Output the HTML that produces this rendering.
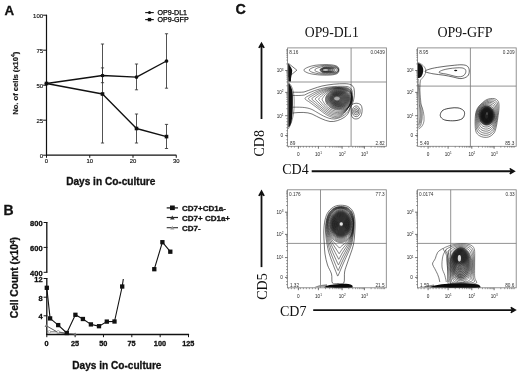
<!DOCTYPE html>
<html><head><meta charset="utf-8"><style>
html,body{margin:0;padding:0;background:#fff;}
svg{display:block;filter:blur(0.35px);}

</style></head><body>
<svg width="520" height="372" viewBox="0 0 520 372">
<rect width="520" height="372" fill="#fff"/>
<text x="4.6" y="14.6" font-size="13.3" text-anchor="start" font-weight="bold" font-family="Liberation Sans, sans-serif" fill="#111" stroke="#111" stroke-width="0.3">A</text>
<line x1="46.5" y1="14.7" x2="46.5" y2="155.7" stroke="#111" stroke-width="1.2" />
<line x1="46" y1="155.2" x2="176.4" y2="155.2" stroke="#111" stroke-width="1.2" />
<line x1="43.1" y1="15.2" x2="46.5" y2="15.2" stroke="#111" stroke-width="1.0" />
<text x="43.1" y="17.7" font-size="6.0" text-anchor="end" font-weight="normal" font-family="Liberation Sans, sans-serif" fill="#111" stroke="#111" stroke-width="0.15">100</text>
<line x1="43.1" y1="50.2" x2="46.5" y2="50.2" stroke="#111" stroke-width="1.0" />
<text x="43.1" y="52.7" font-size="6.0" text-anchor="end" font-weight="normal" font-family="Liberation Sans, sans-serif" fill="#111" stroke="#111" stroke-width="0.15">75</text>
<line x1="43.1" y1="85.2" x2="46.5" y2="85.2" stroke="#111" stroke-width="1.0" />
<text x="43.1" y="87.7" font-size="6.0" text-anchor="end" font-weight="normal" font-family="Liberation Sans, sans-serif" fill="#111" stroke="#111" stroke-width="0.15">50</text>
<line x1="43.1" y1="120.2" x2="46.5" y2="120.2" stroke="#111" stroke-width="1.0" />
<text x="43.1" y="122.7" font-size="6.0" text-anchor="end" font-weight="normal" font-family="Liberation Sans, sans-serif" fill="#111" stroke="#111" stroke-width="0.15">25</text>
<line x1="43.1" y1="155.2" x2="46.5" y2="155.2" stroke="#111" stroke-width="1.0" />
<text x="43.1" y="157.7" font-size="6.0" text-anchor="end" font-weight="normal" font-family="Liberation Sans, sans-serif" fill="#111" stroke="#111" stroke-width="0.15">0</text>
<line x1="46.5" y1="155.2" x2="46.5" y2="157.8" stroke="#111" stroke-width="1.0" />
<text x="46.5" y="163.2" font-size="5.9" text-anchor="middle" font-weight="normal" font-family="Liberation Sans, sans-serif" fill="#111" stroke="#111" stroke-width="0.15">0</text>
<line x1="89.75" y1="155.2" x2="89.75" y2="157.8" stroke="#111" stroke-width="1.0" />
<text x="89.75" y="163.2" font-size="5.9" text-anchor="middle" font-weight="normal" font-family="Liberation Sans, sans-serif" fill="#111" stroke="#111" stroke-width="0.15">10</text>
<line x1="133" y1="155.2" x2="133" y2="157.8" stroke="#111" stroke-width="1.0" />
<text x="133" y="163.2" font-size="5.9" text-anchor="middle" font-weight="normal" font-family="Liberation Sans, sans-serif" fill="#111" stroke="#111" stroke-width="0.15">20</text>
<line x1="176.25" y1="155.2" x2="176.25" y2="157.8" stroke="#111" stroke-width="1.0" />
<text x="176.25" y="163.2" font-size="5.9" text-anchor="middle" font-weight="normal" font-family="Liberation Sans, sans-serif" fill="#111" stroke="#111" stroke-width="0.15">30</text>
<text x="66.2" y="185" font-size="10.1" text-anchor="start" font-weight="bold" font-family="Liberation Sans, sans-serif" fill="#111" stroke="#111" stroke-width="0.3">Days in Co-culture</text>
<text transform="translate(18.3,83.2) rotate(-90)" font-size="7.6" font-weight="bold" text-anchor="middle" font-family="Liberation Sans, sans-serif" fill="#1a1a1a" stroke="#1a1a1a" stroke-width="0.2">No. of cells (x10<tspan font-size="5" dy="-2.9">4</tspan><tspan dy="2.9">)</tspan></text>
<line x1="145.2" y1="12.6" x2="153.8" y2="12.6" stroke="#111" stroke-width="1.1" />
<circle cx="149.5" cy="12.6" r="1.5" fill="#111"/>
<line x1="145.2" y1="19.6" x2="153.8" y2="19.6" stroke="#111" stroke-width="1.1" />
<rect x="147.8" y="17.9" width="3.4" height="3.4" fill="#111"/>
<text x="157.5" y="15.3" font-size="7.1" text-anchor="start" font-weight="normal" font-family="Liberation Sans, sans-serif" fill="#000" stroke="#000" stroke-width="0.25">OP9-DL1</text>
<text x="157.5" y="22.4" font-size="7.1" text-anchor="start" font-weight="normal" font-family="Liberation Sans, sans-serif" fill="#000" stroke="#000" stroke-width="0.25">OP9-GFP</text>
<line x1="102.5" y1="44" x2="102.5" y2="143" stroke="#333" stroke-width="0.85" />
<line x1="100.9" y1="44" x2="104.1" y2="44" stroke="#333" stroke-width="0.85" />
<line x1="100.9" y1="143" x2="104.1" y2="143" stroke="#333" stroke-width="0.85" />
<line x1="102.5" y1="67.9" x2="102.5" y2="82.7" stroke="#333" stroke-width="0.85" />
<line x1="100.9" y1="67.9" x2="104.1" y2="67.9" stroke="#333" stroke-width="0.85" />
<line x1="100.9" y1="82.7" x2="104.1" y2="82.7" stroke="#333" stroke-width="0.85" />
<line x1="136.5" y1="64" x2="136.5" y2="89.8" stroke="#333" stroke-width="0.85" />
<line x1="134.9" y1="64" x2="138.1" y2="64" stroke="#333" stroke-width="0.85" />
<line x1="134.9" y1="89.8" x2="138.1" y2="89.8" stroke="#333" stroke-width="0.85" />
<line x1="136.5" y1="114" x2="136.5" y2="143" stroke="#333" stroke-width="0.85" />
<line x1="134.9" y1="114" x2="138.1" y2="114" stroke="#333" stroke-width="0.85" />
<line x1="134.9" y1="143" x2="138.1" y2="143" stroke="#333" stroke-width="0.85" />
<line x1="166.5" y1="33.75" x2="166.5" y2="88.2" stroke="#333" stroke-width="0.85" />
<line x1="164.9" y1="33.75" x2="168.1" y2="33.75" stroke="#333" stroke-width="0.85" />
<line x1="164.9" y1="88.2" x2="168.1" y2="88.2" stroke="#333" stroke-width="0.85" />
<line x1="166.5" y1="124.4" x2="166.5" y2="148.5" stroke="#333" stroke-width="0.85" />
<line x1="164.9" y1="124.4" x2="168.1" y2="124.4" stroke="#333" stroke-width="0.85" />
<line x1="164.9" y1="148.5" x2="168.1" y2="148.5" stroke="#333" stroke-width="0.85" />
<polyline points="46.5,83.5 102.5,75.5 136.5,77.1 166.5,61" fill="none" stroke="#111" stroke-width="1.35" stroke-linejoin="round"/>
<polyline points="46.5,83.5 102.5,94 136.5,128.5 166.5,136.6" fill="none" stroke="#111" stroke-width="1.35" stroke-linejoin="round"/>
<circle cx="46.5" cy="83.5" r="1.85" fill="#111"/>
<circle cx="102.5" cy="75.5" r="1.85" fill="#111"/>
<circle cx="136.5" cy="77.1" r="1.85" fill="#111"/>
<circle cx="166.5" cy="61" r="1.85" fill="#111"/>
<rect x="44.7" y="81.7" width="3.6" height="3.6" fill="#111"/>
<rect x="100.7" y="92.2" width="3.6" height="3.6" fill="#111"/>
<rect x="134.7" y="126.7" width="3.6" height="3.6" fill="#111"/>
<rect x="164.7" y="134.8" width="3.6" height="3.6" fill="#111"/>
<text x="3.6" y="215.3" font-size="14" text-anchor="start" font-weight="bold" font-family="Liberation Sans, sans-serif" fill="#111" stroke="#111" stroke-width="0.3">B</text>
<line x1="46.8" y1="222.3" x2="46.8" y2="272.6" stroke="#111" stroke-width="1.3" />
<line x1="46.8" y1="278.3" x2="46.8" y2="335" stroke="#111" stroke-width="1.3" />
<line x1="43.6" y1="222.5" x2="47.4" y2="222.5" stroke="#111" stroke-width="1.0" />
<text x="42.6" y="225.8" font-size="7.5" text-anchor="end" font-weight="bold" font-family="Liberation Sans, sans-serif" fill="#111" stroke="#111" stroke-width="0.3">800</text>
<line x1="43.6" y1="247.4" x2="47.4" y2="247.4" stroke="#111" stroke-width="1.0" />
<text x="42.6" y="250.7" font-size="7.5" text-anchor="end" font-weight="bold" font-family="Liberation Sans, sans-serif" fill="#111" stroke="#111" stroke-width="0.3">600</text>
<line x1="43.6" y1="272.3" x2="47.4" y2="272.3" stroke="#111" stroke-width="1.0" />
<text x="42.6" y="275.6" font-size="7.5" text-anchor="end" font-weight="bold" font-family="Liberation Sans, sans-serif" fill="#111" stroke="#111" stroke-width="0.3">400</text>
<line x1="43.6" y1="278.5" x2="47.4" y2="278.5" stroke="#111" stroke-width="1.0" />
<text x="42.6" y="281.8" font-size="7.5" text-anchor="end" font-weight="bold" font-family="Liberation Sans, sans-serif" fill="#111" stroke="#111" stroke-width="0.3">12</text>
<line x1="43.6" y1="297.2" x2="47.4" y2="297.2" stroke="#111" stroke-width="1.0" />
<text x="42.6" y="300.5" font-size="7.5" text-anchor="end" font-weight="bold" font-family="Liberation Sans, sans-serif" fill="#111" stroke="#111" stroke-width="0.3">8</text>
<line x1="43.6" y1="315.8" x2="47.4" y2="315.8" stroke="#111" stroke-width="1.0" />
<text x="42.6" y="319.1" font-size="7.5" text-anchor="end" font-weight="bold" font-family="Liberation Sans, sans-serif" fill="#111" stroke="#111" stroke-width="0.3">4</text>
<line x1="46.2" y1="334.5" x2="189.1" y2="334.5" stroke="#111" stroke-width="1.3" />
<line x1="46.8" y1="334.5" x2="46.8" y2="337.2" stroke="#111" stroke-width="1.0" />
<text x="46.6" y="346.2" font-size="7.3" text-anchor="middle" font-weight="bold" font-family="Liberation Sans, sans-serif" fill="#111" stroke="#111" stroke-width="0.3">0</text>
<line x1="75.14" y1="334.5" x2="75.14" y2="337.2" stroke="#111" stroke-width="1.0" />
<text x="74.94" y="346.2" font-size="7.3" text-anchor="middle" font-weight="bold" font-family="Liberation Sans, sans-serif" fill="#111" stroke="#111" stroke-width="0.3">25</text>
<line x1="103.48" y1="334.5" x2="103.48" y2="337.2" stroke="#111" stroke-width="1.0" />
<text x="103.28" y="346.2" font-size="7.3" text-anchor="middle" font-weight="bold" font-family="Liberation Sans, sans-serif" fill="#111" stroke="#111" stroke-width="0.3">50</text>
<line x1="131.82" y1="334.5" x2="131.82" y2="337.2" stroke="#111" stroke-width="1.0" />
<text x="131.62" y="346.2" font-size="7.3" text-anchor="middle" font-weight="bold" font-family="Liberation Sans, sans-serif" fill="#111" stroke="#111" stroke-width="0.3">75</text>
<line x1="160.16" y1="334.5" x2="160.16" y2="337.2" stroke="#111" stroke-width="1.0" />
<text x="159.96" y="346.2" font-size="7.3" text-anchor="middle" font-weight="bold" font-family="Liberation Sans, sans-serif" fill="#111" stroke="#111" stroke-width="0.3">100</text>
<line x1="188.5" y1="334.5" x2="188.5" y2="337.2" stroke="#111" stroke-width="1.0" />
<text x="188.3" y="346.2" font-size="7.3" text-anchor="middle" font-weight="bold" font-family="Liberation Sans, sans-serif" fill="#111" stroke="#111" stroke-width="0.3">125</text>
<text x="72.3" y="368.6" font-size="10.1" text-anchor="start" font-weight="bold" font-family="Liberation Sans, sans-serif" fill="#111" stroke="#111" stroke-width="0.3">Days in Co-culture</text>
<text transform="translate(18.4,277.6) rotate(-90)" font-size="10.2" font-weight="bold" text-anchor="middle" font-family="Liberation Sans, sans-serif" fill="#111" stroke="#111" stroke-width="0.3">Cell Count (x10<tspan font-size="6.5" dy="-3.6">4</tspan><tspan dy="3.6">)</tspan></text>
<polyline points="46.2,325.7 58.2,332.5 66.6,333.6 75.1,334.2" fill="none" stroke="#444" stroke-width="0.9" stroke-linejoin="round"/>
<path d="M44.6,327 L46.2,324 L47.8,327Z" fill="#777"/>
<path d="M56.6,333.5 l1.6,-2.8 l1.6,2.8Z" fill="#666"/>
<path d="M65,334.6 l1.6,-2.8 l1.6,2.8Z" fill="#666"/>
<path d="M73.5,335.2 l1.6,-2.8 l1.6,2.8Z" fill="#666"/>
<polyline points="46.5,331 49.3,331.8 58.2,331.8 66.6,333.4" fill="none" stroke="#555" stroke-width="0.8" stroke-linejoin="round"/>
<circle cx="49.3" cy="331.8" r="1.3" fill="#fff" stroke="#888" stroke-width="0.6"/>
<circle cx="58.2" cy="331.8" r="1.3" fill="#fff" stroke="#888" stroke-width="0.6"/>
<polyline points="46.8,287.8 50.1,318.4 58.2,325.1 66.8,333 75.4,314.8 82.9,319 90.9,324.4 99,326.2 106.8,321.6 114.5,321.5 122.2,286.5 123.3,279" fill="none" stroke="#111" stroke-width="1.1" stroke-linejoin="round"/>
<rect x="44.65" y="285.65" width="4.3" height="4.3" fill="#111"/>
<rect x="47.95" y="316.25" width="4.3" height="4.3" fill="#111"/>
<rect x="56.05" y="322.95" width="4.3" height="4.3" fill="#111"/>
<rect x="64.65" y="330.85" width="4.3" height="4.3" fill="#111"/>
<rect x="73.25" y="312.65" width="4.3" height="4.3" fill="#111"/>
<rect x="80.75" y="316.85" width="4.3" height="4.3" fill="#111"/>
<rect x="88.75" y="322.25" width="4.3" height="4.3" fill="#111"/>
<rect x="96.85" y="324.05" width="4.3" height="4.3" fill="#111"/>
<rect x="104.65" y="319.45" width="4.3" height="4.3" fill="#111"/>
<rect x="112.35" y="319.35" width="4.3" height="4.3" fill="#111"/>
<rect x="120.05" y="284.35" width="4.3" height="4.3" fill="#111"/>
<polyline points="154.3,269.2 162.4,242.2 170.3,251.7" fill="none" stroke="#111" stroke-width="1.1" stroke-linejoin="round"/>
<rect x="152.15" y="267.05" width="4.3" height="4.3" fill="#111"/>
<rect x="160.25" y="240.05" width="4.3" height="4.3" fill="#111"/>
<rect x="168.15" y="249.55" width="4.3" height="4.3" fill="#111"/>
<line x1="166.7" y1="207.9" x2="178" y2="207.9" stroke="#111" stroke-width="1.2" />
<rect x="170" y="205.5" width="4.8" height="4.6" fill="#111"/>
<line x1="166.7" y1="217.5" x2="178" y2="217.5" stroke="#222" stroke-width="1.2" />
<path d="M170,219.6 L172.3,215.4 L174.6,219.6Z" fill="#333"/>
<line x1="166.7" y1="227.7" x2="178" y2="227.7" stroke="#333" stroke-width="1.1" />
<path d="M170.2,229.6 L172.3,225.8 L174.4,229.6Z" fill="#999"/>
<text x="182" y="211.2" font-size="8" text-anchor="start" font-weight="bold" font-family="Liberation Sans, sans-serif" fill="#111" stroke="#111" stroke-width="0.3">CD7+CD1a-</text>
<text x="182" y="220.8" font-size="8" text-anchor="start" font-weight="bold" font-family="Liberation Sans, sans-serif" fill="#111" stroke="#111" stroke-width="0.3">CD7+ CD1a+</text>
<text x="182" y="231.3" font-size="8" text-anchor="start" font-weight="bold" font-family="Liberation Sans, sans-serif" fill="#111" stroke="#111" stroke-width="0.3">CD7-</text>
<text x="235.6" y="13.9" font-size="14.3" text-anchor="start" font-weight="bold" font-family="Liberation Sans, sans-serif" fill="#111" stroke="#111" stroke-width="0.3">C</text>
<text x="304.8" y="36.6" font-size="13.7" text-anchor="start" font-weight="normal" font-family="Liberation Serif, serif" fill="#111" >OP9-DL1</text>
<text x="437.4" y="36.6" font-size="14" text-anchor="start" font-weight="normal" font-family="Liberation Serif, serif" fill="#111" >OP9-GFP</text>
<line x1="261.5" y1="45.2" x2="261.5" y2="119" stroke="#111" stroke-width="1.8" />
<path d="M261.5,43 L264.2,47.8 L261.5,46 L258.8,47.8 Z" stroke="#111" stroke-width="1.3" stroke-linejoin="miter" fill="#111"/>
<text transform="translate(264.2,143.3) rotate(-90)" font-size="14" text-anchor="middle" font-family="Liberation Serif, serif" fill="#111">CD8</text>
<text x="282.2" y="174.4" font-size="14" text-anchor="start" font-weight="normal" font-family="Liberation Serif, serif" fill="#111" >CD4</text>
<line x1="311.7" y1="171.2" x2="512.3" y2="171.2" stroke="#111" stroke-width="1.9" />
<path d="M514.5,171.2 L509.9,168.5 L511.7,171.2 L509.9,173.9 Z" stroke="#111" stroke-width="1.3" stroke-linejoin="miter" fill="#111"/>
<line x1="261.5" y1="193.1" x2="261.5" y2="267.1" stroke="#111" stroke-width="1.8" />
<path d="M261.5,190.9 L264.2,195.7 L261.5,193.9 L258.8,195.7 Z" stroke="#111" stroke-width="1.3" stroke-linejoin="miter" fill="#111"/>
<text transform="translate(266.6,286.6) rotate(-90)" font-size="14" text-anchor="middle" font-family="Liberation Serif, serif" fill="#111">CD5</text>
<text x="280" y="315.8" font-size="14" text-anchor="start" font-weight="normal" font-family="Liberation Serif, serif" fill="#111" >CD7</text>
<line x1="313.2" y1="310.1" x2="513.3" y2="310.1" stroke="#111" stroke-width="1.9" />
<path d="M515.5,310.1 L510.9,307.4 L512.7,310.1 L510.9,312.8 Z" stroke="#111" stroke-width="1.3" stroke-linejoin="miter" fill="#111"/>
<rect x="287.6" y="47.9" width="98.8" height="98.4" fill="none" stroke="#808080" stroke-width="0.85"/>
<line x1="351.1" y1="47.9" x2="351.1" y2="146.3" stroke="#808080" stroke-width="0.85" />
<line x1="287.6" y1="82" x2="386.4" y2="82" stroke="#808080" stroke-width="0.85" />
<line x1="285.2" y1="70.5" x2="287.6" y2="70.5" stroke="#333" stroke-width="0.7" />
<text x="283.6" y="72.3" font-size="4.6" text-anchor="end" font-family="Liberation Sans, sans-serif" fill="#222">10<tspan font-size="3.1" dy="-1.8">3</tspan></text>
<line x1="285.2" y1="92.4" x2="287.6" y2="92.4" stroke="#333" stroke-width="0.7" />
<text x="283.6" y="94.2" font-size="4.6" text-anchor="end" font-family="Liberation Sans, sans-serif" fill="#222">10<tspan font-size="3.1" dy="-1.8">2</tspan></text>
<line x1="285.2" y1="115.7" x2="287.6" y2="115.7" stroke="#333" stroke-width="0.7" />
<text x="283.6" y="117.5" font-size="4.6" text-anchor="end" font-family="Liberation Sans, sans-serif" fill="#222">10<tspan font-size="3.1" dy="-1.8">1</tspan></text>
<line x1="285.2" y1="135.5" x2="287.6" y2="135.5" stroke="#333" stroke-width="0.7" />
<text x="283" y="137.3" font-size="4.7" text-anchor="end" font-weight="normal" font-family="Liberation Sans, sans-serif" fill="#222" >0</text>
<line x1="298.4" y1="146.3" x2="298.4" y2="148.7" stroke="#333" stroke-width="0.7" />
<text x="298.4" y="156.1" font-size="4.7" text-anchor="middle" font-weight="normal" font-family="Liberation Sans, sans-serif" fill="#222" >0</text>
<line x1="318.4" y1="146.3" x2="318.4" y2="148.7" stroke="#333" stroke-width="0.7" />
<text x="318.5" y="156.1" font-size="4.6" text-anchor="middle" font-family="Liberation Sans, sans-serif" fill="#222">10<tspan font-size="3.1" dy="-1.8">1</tspan></text>
<line x1="342.1" y1="146.3" x2="342.1" y2="148.7" stroke="#333" stroke-width="0.7" />
<text x="342.2" y="156.1" font-size="4.6" text-anchor="middle" font-family="Liberation Sans, sans-serif" fill="#222">10<tspan font-size="3.1" dy="-1.8">2</tspan></text>
<line x1="364.4" y1="146.3" x2="364.4" y2="148.7" stroke="#333" stroke-width="0.7" />
<text x="364.5" y="156.1" font-size="4.6" text-anchor="middle" font-family="Liberation Sans, sans-serif" fill="#222">10<tspan font-size="3.1" dy="-1.8">3</tspan></text>
<line x1="286.2" y1="85.81" x2="287.6" y2="85.81" stroke="#444" stroke-width="0.5" />
<line x1="286.2" y1="81.95" x2="287.6" y2="81.95" stroke="#444" stroke-width="0.5" />
<line x1="286.2" y1="79.21" x2="287.6" y2="79.21" stroke="#444" stroke-width="0.5" />
<line x1="286.2" y1="77.09" x2="287.6" y2="77.09" stroke="#444" stroke-width="0.5" />
<line x1="286.2" y1="75.36" x2="287.6" y2="75.36" stroke="#444" stroke-width="0.5" />
<line x1="286.2" y1="73.89" x2="287.6" y2="73.89" stroke="#444" stroke-width="0.5" />
<line x1="286.2" y1="72.62" x2="287.6" y2="72.62" stroke="#444" stroke-width="0.5" />
<line x1="286.2" y1="71.5" x2="287.6" y2="71.5" stroke="#444" stroke-width="0.5" />
<line x1="286.2" y1="108.69" x2="287.6" y2="108.69" stroke="#444" stroke-width="0.5" />
<line x1="286.2" y1="104.58" x2="287.6" y2="104.58" stroke="#444" stroke-width="0.5" />
<line x1="286.2" y1="101.67" x2="287.6" y2="101.67" stroke="#444" stroke-width="0.5" />
<line x1="286.2" y1="99.41" x2="287.6" y2="99.41" stroke="#444" stroke-width="0.5" />
<line x1="286.2" y1="97.57" x2="287.6" y2="97.57" stroke="#444" stroke-width="0.5" />
<line x1="286.2" y1="96.01" x2="287.6" y2="96.01" stroke="#444" stroke-width="0.5" />
<line x1="286.2" y1="94.66" x2="287.6" y2="94.66" stroke="#444" stroke-width="0.5" />
<line x1="286.2" y1="93.47" x2="287.6" y2="93.47" stroke="#444" stroke-width="0.5" />
<line x1="286.2" y1="63.91" x2="287.6" y2="63.91" stroke="#444" stroke-width="0.5" />
<line x1="286.2" y1="60.05" x2="287.6" y2="60.05" stroke="#444" stroke-width="0.5" />
<line x1="286.2" y1="57.31" x2="287.6" y2="57.31" stroke="#444" stroke-width="0.5" />
<line x1="286.2" y1="55.19" x2="287.6" y2="55.19" stroke="#444" stroke-width="0.5" />
<line x1="286.2" y1="53.46" x2="287.6" y2="53.46" stroke="#444" stroke-width="0.5" />
<line x1="286.2" y1="51.99" x2="287.6" y2="51.99" stroke="#444" stroke-width="0.5" />
<line x1="286.2" y1="50.72" x2="287.6" y2="50.72" stroke="#444" stroke-width="0.5" />
<line x1="286.2" y1="49.6" x2="287.6" y2="49.6" stroke="#444" stroke-width="0.5" />
<line x1="286.2" y1="118.7" x2="287.6" y2="118.7" stroke="#444" stroke-width="0.5" />
<line x1="286.2" y1="121.7" x2="287.6" y2="121.7" stroke="#444" stroke-width="0.5" />
<line x1="286.2" y1="124.7" x2="287.6" y2="124.7" stroke="#444" stroke-width="0.5" />
<line x1="286.2" y1="127.7" x2="287.6" y2="127.7" stroke="#444" stroke-width="0.5" />
<line x1="286.2" y1="130.7" x2="287.6" y2="130.7" stroke="#444" stroke-width="0.5" />
<line x1="286.2" y1="133.7" x2="287.6" y2="133.7" stroke="#444" stroke-width="0.5" />
<line x1="286.2" y1="136.7" x2="287.6" y2="136.7" stroke="#444" stroke-width="0.5" />
<line x1="286.2" y1="139.7" x2="287.6" y2="139.7" stroke="#444" stroke-width="0.5" />
<line x1="286.2" y1="142.7" x2="287.6" y2="142.7" stroke="#444" stroke-width="0.5" />
<line x1="286.2" y1="145.7" x2="287.6" y2="145.7" stroke="#444" stroke-width="0.5" />
<line x1="325.53" y1="146.3" x2="325.53" y2="147.7" stroke="#444" stroke-width="0.5" />
<line x1="329.71" y1="146.3" x2="329.71" y2="147.7" stroke="#444" stroke-width="0.5" />
<line x1="332.67" y1="146.3" x2="332.67" y2="147.7" stroke="#444" stroke-width="0.5" />
<line x1="334.97" y1="146.3" x2="334.97" y2="147.7" stroke="#444" stroke-width="0.5" />
<line x1="336.84" y1="146.3" x2="336.84" y2="147.7" stroke="#444" stroke-width="0.5" />
<line x1="338.43" y1="146.3" x2="338.43" y2="147.7" stroke="#444" stroke-width="0.5" />
<line x1="339.8" y1="146.3" x2="339.8" y2="147.7" stroke="#444" stroke-width="0.5" />
<line x1="341.02" y1="146.3" x2="341.02" y2="147.7" stroke="#444" stroke-width="0.5" />
<line x1="348.81" y1="146.3" x2="348.81" y2="147.7" stroke="#444" stroke-width="0.5" />
<line x1="352.74" y1="146.3" x2="352.74" y2="147.7" stroke="#444" stroke-width="0.5" />
<line x1="355.53" y1="146.3" x2="355.53" y2="147.7" stroke="#444" stroke-width="0.5" />
<line x1="357.69" y1="146.3" x2="357.69" y2="147.7" stroke="#444" stroke-width="0.5" />
<line x1="359.45" y1="146.3" x2="359.45" y2="147.7" stroke="#444" stroke-width="0.5" />
<line x1="360.95" y1="146.3" x2="360.95" y2="147.7" stroke="#444" stroke-width="0.5" />
<line x1="362.24" y1="146.3" x2="362.24" y2="147.7" stroke="#444" stroke-width="0.5" />
<line x1="363.38" y1="146.3" x2="363.38" y2="147.7" stroke="#444" stroke-width="0.5" />
<line x1="371.11" y1="146.3" x2="371.11" y2="147.7" stroke="#444" stroke-width="0.5" />
<line x1="375.04" y1="146.3" x2="375.04" y2="147.7" stroke="#444" stroke-width="0.5" />
<line x1="377.83" y1="146.3" x2="377.83" y2="147.7" stroke="#444" stroke-width="0.5" />
<line x1="379.99" y1="146.3" x2="379.99" y2="147.7" stroke="#444" stroke-width="0.5" />
<line x1="381.75" y1="146.3" x2="381.75" y2="147.7" stroke="#444" stroke-width="0.5" />
<line x1="383.25" y1="146.3" x2="383.25" y2="147.7" stroke="#444" stroke-width="0.5" />
<line x1="384.54" y1="146.3" x2="384.54" y2="147.7" stroke="#444" stroke-width="0.5" />
<line x1="315.4" y1="146.3" x2="315.4" y2="147.7" stroke="#444" stroke-width="0.5" />
<line x1="312.4" y1="146.3" x2="312.4" y2="147.7" stroke="#444" stroke-width="0.5" />
<line x1="309.4" y1="146.3" x2="309.4" y2="147.7" stroke="#444" stroke-width="0.5" />
<line x1="306.4" y1="146.3" x2="306.4" y2="147.7" stroke="#444" stroke-width="0.5" />
<line x1="303.4" y1="146.3" x2="303.4" y2="147.7" stroke="#444" stroke-width="0.5" />
<line x1="300.4" y1="146.3" x2="300.4" y2="147.7" stroke="#444" stroke-width="0.5" />
<line x1="294.4" y1="146.3" x2="294.4" y2="147.7" stroke="#444" stroke-width="0.5" />
<line x1="291.4" y1="146.3" x2="291.4" y2="147.7" stroke="#444" stroke-width="0.5" />
<line x1="288.4" y1="146.3" x2="288.4" y2="147.7" stroke="#444" stroke-width="0.5" />
<rect x="417.6" y="47.9" width="98.6" height="98.4" fill="none" stroke="#808080" stroke-width="0.85"/>
<line x1="470.4" y1="47.9" x2="470.4" y2="146.3" stroke="#808080" stroke-width="0.85" />
<line x1="417.6" y1="86.1" x2="516.2" y2="86.1" stroke="#808080" stroke-width="0.85" />
<line x1="415.2" y1="70.5" x2="417.6" y2="70.5" stroke="#333" stroke-width="0.7" />
<text x="413.6" y="72.3" font-size="4.6" text-anchor="end" font-family="Liberation Sans, sans-serif" fill="#222">10<tspan font-size="3.1" dy="-1.8">3</tspan></text>
<line x1="415.2" y1="92.4" x2="417.6" y2="92.4" stroke="#333" stroke-width="0.7" />
<text x="413.6" y="94.2" font-size="4.6" text-anchor="end" font-family="Liberation Sans, sans-serif" fill="#222">10<tspan font-size="3.1" dy="-1.8">2</tspan></text>
<line x1="415.2" y1="115.7" x2="417.6" y2="115.7" stroke="#333" stroke-width="0.7" />
<text x="413.6" y="117.5" font-size="4.6" text-anchor="end" font-family="Liberation Sans, sans-serif" fill="#222">10<tspan font-size="3.1" dy="-1.8">1</tspan></text>
<line x1="415.2" y1="135.5" x2="417.6" y2="135.5" stroke="#333" stroke-width="0.7" />
<text x="413" y="137.3" font-size="4.7" text-anchor="end" font-weight="normal" font-family="Liberation Sans, sans-serif" fill="#222" >0</text>
<line x1="428.1" y1="146.3" x2="428.1" y2="148.7" stroke="#333" stroke-width="0.7" />
<text x="428.1" y="156.1" font-size="4.7" text-anchor="middle" font-weight="normal" font-family="Liberation Sans, sans-serif" fill="#222" >0</text>
<line x1="448.1" y1="146.3" x2="448.1" y2="148.7" stroke="#333" stroke-width="0.7" />
<text x="448.2" y="156.1" font-size="4.6" text-anchor="middle" font-family="Liberation Sans, sans-serif" fill="#222">10<tspan font-size="3.1" dy="-1.8">1</tspan></text>
<line x1="471.8" y1="146.3" x2="471.8" y2="148.7" stroke="#333" stroke-width="0.7" />
<text x="471.9" y="156.1" font-size="4.6" text-anchor="middle" font-family="Liberation Sans, sans-serif" fill="#222">10<tspan font-size="3.1" dy="-1.8">2</tspan></text>
<line x1="494.1" y1="146.3" x2="494.1" y2="148.7" stroke="#333" stroke-width="0.7" />
<text x="494.2" y="156.1" font-size="4.6" text-anchor="middle" font-family="Liberation Sans, sans-serif" fill="#222">10<tspan font-size="3.1" dy="-1.8">3</tspan></text>
<line x1="416.2" y1="85.81" x2="417.6" y2="85.81" stroke="#444" stroke-width="0.5" />
<line x1="416.2" y1="81.95" x2="417.6" y2="81.95" stroke="#444" stroke-width="0.5" />
<line x1="416.2" y1="79.21" x2="417.6" y2="79.21" stroke="#444" stroke-width="0.5" />
<line x1="416.2" y1="77.09" x2="417.6" y2="77.09" stroke="#444" stroke-width="0.5" />
<line x1="416.2" y1="75.36" x2="417.6" y2="75.36" stroke="#444" stroke-width="0.5" />
<line x1="416.2" y1="73.89" x2="417.6" y2="73.89" stroke="#444" stroke-width="0.5" />
<line x1="416.2" y1="72.62" x2="417.6" y2="72.62" stroke="#444" stroke-width="0.5" />
<line x1="416.2" y1="71.5" x2="417.6" y2="71.5" stroke="#444" stroke-width="0.5" />
<line x1="416.2" y1="108.69" x2="417.6" y2="108.69" stroke="#444" stroke-width="0.5" />
<line x1="416.2" y1="104.58" x2="417.6" y2="104.58" stroke="#444" stroke-width="0.5" />
<line x1="416.2" y1="101.67" x2="417.6" y2="101.67" stroke="#444" stroke-width="0.5" />
<line x1="416.2" y1="99.41" x2="417.6" y2="99.41" stroke="#444" stroke-width="0.5" />
<line x1="416.2" y1="97.57" x2="417.6" y2="97.57" stroke="#444" stroke-width="0.5" />
<line x1="416.2" y1="96.01" x2="417.6" y2="96.01" stroke="#444" stroke-width="0.5" />
<line x1="416.2" y1="94.66" x2="417.6" y2="94.66" stroke="#444" stroke-width="0.5" />
<line x1="416.2" y1="93.47" x2="417.6" y2="93.47" stroke="#444" stroke-width="0.5" />
<line x1="416.2" y1="63.91" x2="417.6" y2="63.91" stroke="#444" stroke-width="0.5" />
<line x1="416.2" y1="60.05" x2="417.6" y2="60.05" stroke="#444" stroke-width="0.5" />
<line x1="416.2" y1="57.31" x2="417.6" y2="57.31" stroke="#444" stroke-width="0.5" />
<line x1="416.2" y1="55.19" x2="417.6" y2="55.19" stroke="#444" stroke-width="0.5" />
<line x1="416.2" y1="53.46" x2="417.6" y2="53.46" stroke="#444" stroke-width="0.5" />
<line x1="416.2" y1="51.99" x2="417.6" y2="51.99" stroke="#444" stroke-width="0.5" />
<line x1="416.2" y1="50.72" x2="417.6" y2="50.72" stroke="#444" stroke-width="0.5" />
<line x1="416.2" y1="49.6" x2="417.6" y2="49.6" stroke="#444" stroke-width="0.5" />
<line x1="416.2" y1="118.7" x2="417.6" y2="118.7" stroke="#444" stroke-width="0.5" />
<line x1="416.2" y1="121.7" x2="417.6" y2="121.7" stroke="#444" stroke-width="0.5" />
<line x1="416.2" y1="124.7" x2="417.6" y2="124.7" stroke="#444" stroke-width="0.5" />
<line x1="416.2" y1="127.7" x2="417.6" y2="127.7" stroke="#444" stroke-width="0.5" />
<line x1="416.2" y1="130.7" x2="417.6" y2="130.7" stroke="#444" stroke-width="0.5" />
<line x1="416.2" y1="133.7" x2="417.6" y2="133.7" stroke="#444" stroke-width="0.5" />
<line x1="416.2" y1="136.7" x2="417.6" y2="136.7" stroke="#444" stroke-width="0.5" />
<line x1="416.2" y1="139.7" x2="417.6" y2="139.7" stroke="#444" stroke-width="0.5" />
<line x1="416.2" y1="142.7" x2="417.6" y2="142.7" stroke="#444" stroke-width="0.5" />
<line x1="416.2" y1="145.7" x2="417.6" y2="145.7" stroke="#444" stroke-width="0.5" />
<line x1="455.23" y1="146.3" x2="455.23" y2="147.7" stroke="#444" stroke-width="0.5" />
<line x1="459.41" y1="146.3" x2="459.41" y2="147.7" stroke="#444" stroke-width="0.5" />
<line x1="462.37" y1="146.3" x2="462.37" y2="147.7" stroke="#444" stroke-width="0.5" />
<line x1="464.67" y1="146.3" x2="464.67" y2="147.7" stroke="#444" stroke-width="0.5" />
<line x1="466.54" y1="146.3" x2="466.54" y2="147.7" stroke="#444" stroke-width="0.5" />
<line x1="468.13" y1="146.3" x2="468.13" y2="147.7" stroke="#444" stroke-width="0.5" />
<line x1="469.5" y1="146.3" x2="469.5" y2="147.7" stroke="#444" stroke-width="0.5" />
<line x1="470.72" y1="146.3" x2="470.72" y2="147.7" stroke="#444" stroke-width="0.5" />
<line x1="478.51" y1="146.3" x2="478.51" y2="147.7" stroke="#444" stroke-width="0.5" />
<line x1="482.44" y1="146.3" x2="482.44" y2="147.7" stroke="#444" stroke-width="0.5" />
<line x1="485.23" y1="146.3" x2="485.23" y2="147.7" stroke="#444" stroke-width="0.5" />
<line x1="487.39" y1="146.3" x2="487.39" y2="147.7" stroke="#444" stroke-width="0.5" />
<line x1="489.15" y1="146.3" x2="489.15" y2="147.7" stroke="#444" stroke-width="0.5" />
<line x1="490.65" y1="146.3" x2="490.65" y2="147.7" stroke="#444" stroke-width="0.5" />
<line x1="491.94" y1="146.3" x2="491.94" y2="147.7" stroke="#444" stroke-width="0.5" />
<line x1="493.08" y1="146.3" x2="493.08" y2="147.7" stroke="#444" stroke-width="0.5" />
<line x1="500.81" y1="146.3" x2="500.81" y2="147.7" stroke="#444" stroke-width="0.5" />
<line x1="504.74" y1="146.3" x2="504.74" y2="147.7" stroke="#444" stroke-width="0.5" />
<line x1="507.53" y1="146.3" x2="507.53" y2="147.7" stroke="#444" stroke-width="0.5" />
<line x1="509.69" y1="146.3" x2="509.69" y2="147.7" stroke="#444" stroke-width="0.5" />
<line x1="511.45" y1="146.3" x2="511.45" y2="147.7" stroke="#444" stroke-width="0.5" />
<line x1="512.95" y1="146.3" x2="512.95" y2="147.7" stroke="#444" stroke-width="0.5" />
<line x1="514.24" y1="146.3" x2="514.24" y2="147.7" stroke="#444" stroke-width="0.5" />
<line x1="445.1" y1="146.3" x2="445.1" y2="147.7" stroke="#444" stroke-width="0.5" />
<line x1="442.1" y1="146.3" x2="442.1" y2="147.7" stroke="#444" stroke-width="0.5" />
<line x1="439.1" y1="146.3" x2="439.1" y2="147.7" stroke="#444" stroke-width="0.5" />
<line x1="436.1" y1="146.3" x2="436.1" y2="147.7" stroke="#444" stroke-width="0.5" />
<line x1="433.1" y1="146.3" x2="433.1" y2="147.7" stroke="#444" stroke-width="0.5" />
<line x1="430.1" y1="146.3" x2="430.1" y2="147.7" stroke="#444" stroke-width="0.5" />
<line x1="424.1" y1="146.3" x2="424.1" y2="147.7" stroke="#444" stroke-width="0.5" />
<line x1="421.1" y1="146.3" x2="421.1" y2="147.7" stroke="#444" stroke-width="0.5" />
<rect x="287.4" y="189.8" width="98.9" height="98" fill="none" stroke="#808080" stroke-width="0.85"/>
<line x1="320.5" y1="189.8" x2="320.5" y2="287.8" stroke="#808080" stroke-width="0.85" />
<line x1="287.4" y1="243.4" x2="386.3" y2="243.4" stroke="#808080" stroke-width="0.85" />
<line x1="285" y1="212.2" x2="287.4" y2="212.2" stroke="#333" stroke-width="0.7" />
<text x="283.4" y="214" font-size="4.6" text-anchor="end" font-family="Liberation Sans, sans-serif" fill="#222">10<tspan font-size="3.1" dy="-1.8">3</tspan></text>
<line x1="285" y1="234.4" x2="287.4" y2="234.4" stroke="#333" stroke-width="0.7" />
<text x="283.4" y="236.2" font-size="4.6" text-anchor="end" font-family="Liberation Sans, sans-serif" fill="#222">10<tspan font-size="3.1" dy="-1.8">2</tspan></text>
<line x1="285" y1="257.6" x2="287.4" y2="257.6" stroke="#333" stroke-width="0.7" />
<text x="283.4" y="259.4" font-size="4.6" text-anchor="end" font-family="Liberation Sans, sans-serif" fill="#222">10<tspan font-size="3.1" dy="-1.8">1</tspan></text>
<line x1="285" y1="277.4" x2="287.4" y2="277.4" stroke="#333" stroke-width="0.7" />
<text x="282.8" y="279.2" font-size="4.7" text-anchor="end" font-weight="normal" font-family="Liberation Sans, sans-serif" fill="#222" >0</text>
<line x1="298.4" y1="287.8" x2="298.4" y2="290.2" stroke="#333" stroke-width="0.7" />
<text x="298.4" y="297.6" font-size="4.7" text-anchor="middle" font-weight="normal" font-family="Liberation Sans, sans-serif" fill="#222" >0</text>
<line x1="318.4" y1="287.8" x2="318.4" y2="290.2" stroke="#333" stroke-width="0.7" />
<text x="318.5" y="297.6" font-size="4.6" text-anchor="middle" font-family="Liberation Sans, sans-serif" fill="#222">10<tspan font-size="3.1" dy="-1.8">1</tspan></text>
<line x1="342.1" y1="287.8" x2="342.1" y2="290.2" stroke="#333" stroke-width="0.7" />
<text x="342.2" y="297.6" font-size="4.6" text-anchor="middle" font-family="Liberation Sans, sans-serif" fill="#222">10<tspan font-size="3.1" dy="-1.8">2</tspan></text>
<line x1="364.4" y1="287.8" x2="364.4" y2="290.2" stroke="#333" stroke-width="0.7" />
<text x="364.5" y="297.6" font-size="4.6" text-anchor="middle" font-family="Liberation Sans, sans-serif" fill="#222">10<tspan font-size="3.1" dy="-1.8">3</tspan></text>
<line x1="286" y1="227.72" x2="287.4" y2="227.72" stroke="#444" stroke-width="0.5" />
<line x1="286" y1="223.81" x2="287.4" y2="223.81" stroke="#444" stroke-width="0.5" />
<line x1="286" y1="221.03" x2="287.4" y2="221.03" stroke="#444" stroke-width="0.5" />
<line x1="286" y1="218.88" x2="287.4" y2="218.88" stroke="#444" stroke-width="0.5" />
<line x1="286" y1="217.13" x2="287.4" y2="217.13" stroke="#444" stroke-width="0.5" />
<line x1="286" y1="215.64" x2="287.4" y2="215.64" stroke="#444" stroke-width="0.5" />
<line x1="286" y1="214.35" x2="287.4" y2="214.35" stroke="#444" stroke-width="0.5" />
<line x1="286" y1="213.22" x2="287.4" y2="213.22" stroke="#444" stroke-width="0.5" />
<line x1="286" y1="250.62" x2="287.4" y2="250.62" stroke="#444" stroke-width="0.5" />
<line x1="286" y1="246.53" x2="287.4" y2="246.53" stroke="#444" stroke-width="0.5" />
<line x1="286" y1="243.63" x2="287.4" y2="243.63" stroke="#444" stroke-width="0.5" />
<line x1="286" y1="241.38" x2="287.4" y2="241.38" stroke="#444" stroke-width="0.5" />
<line x1="286" y1="239.55" x2="287.4" y2="239.55" stroke="#444" stroke-width="0.5" />
<line x1="286" y1="237.99" x2="287.4" y2="237.99" stroke="#444" stroke-width="0.5" />
<line x1="286" y1="236.65" x2="287.4" y2="236.65" stroke="#444" stroke-width="0.5" />
<line x1="286" y1="235.46" x2="287.4" y2="235.46" stroke="#444" stroke-width="0.5" />
<line x1="286" y1="205.52" x2="287.4" y2="205.52" stroke="#444" stroke-width="0.5" />
<line x1="286" y1="201.61" x2="287.4" y2="201.61" stroke="#444" stroke-width="0.5" />
<line x1="286" y1="198.83" x2="287.4" y2="198.83" stroke="#444" stroke-width="0.5" />
<line x1="286" y1="196.68" x2="287.4" y2="196.68" stroke="#444" stroke-width="0.5" />
<line x1="286" y1="194.93" x2="287.4" y2="194.93" stroke="#444" stroke-width="0.5" />
<line x1="286" y1="193.44" x2="287.4" y2="193.44" stroke="#444" stroke-width="0.5" />
<line x1="286" y1="192.15" x2="287.4" y2="192.15" stroke="#444" stroke-width="0.5" />
<line x1="286" y1="191.02" x2="287.4" y2="191.02" stroke="#444" stroke-width="0.5" />
<line x1="286" y1="260.6" x2="287.4" y2="260.6" stroke="#444" stroke-width="0.5" />
<line x1="286" y1="263.6" x2="287.4" y2="263.6" stroke="#444" stroke-width="0.5" />
<line x1="286" y1="266.6" x2="287.4" y2="266.6" stroke="#444" stroke-width="0.5" />
<line x1="286" y1="269.6" x2="287.4" y2="269.6" stroke="#444" stroke-width="0.5" />
<line x1="286" y1="272.6" x2="287.4" y2="272.6" stroke="#444" stroke-width="0.5" />
<line x1="286" y1="275.6" x2="287.4" y2="275.6" stroke="#444" stroke-width="0.5" />
<line x1="286" y1="278.6" x2="287.4" y2="278.6" stroke="#444" stroke-width="0.5" />
<line x1="286" y1="281.6" x2="287.4" y2="281.6" stroke="#444" stroke-width="0.5" />
<line x1="286" y1="284.6" x2="287.4" y2="284.6" stroke="#444" stroke-width="0.5" />
<line x1="325.53" y1="287.8" x2="325.53" y2="289.2" stroke="#444" stroke-width="0.5" />
<line x1="329.71" y1="287.8" x2="329.71" y2="289.2" stroke="#444" stroke-width="0.5" />
<line x1="332.67" y1="287.8" x2="332.67" y2="289.2" stroke="#444" stroke-width="0.5" />
<line x1="334.97" y1="287.8" x2="334.97" y2="289.2" stroke="#444" stroke-width="0.5" />
<line x1="336.84" y1="287.8" x2="336.84" y2="289.2" stroke="#444" stroke-width="0.5" />
<line x1="338.43" y1="287.8" x2="338.43" y2="289.2" stroke="#444" stroke-width="0.5" />
<line x1="339.8" y1="287.8" x2="339.8" y2="289.2" stroke="#444" stroke-width="0.5" />
<line x1="341.02" y1="287.8" x2="341.02" y2="289.2" stroke="#444" stroke-width="0.5" />
<line x1="348.81" y1="287.8" x2="348.81" y2="289.2" stroke="#444" stroke-width="0.5" />
<line x1="352.74" y1="287.8" x2="352.74" y2="289.2" stroke="#444" stroke-width="0.5" />
<line x1="355.53" y1="287.8" x2="355.53" y2="289.2" stroke="#444" stroke-width="0.5" />
<line x1="357.69" y1="287.8" x2="357.69" y2="289.2" stroke="#444" stroke-width="0.5" />
<line x1="359.45" y1="287.8" x2="359.45" y2="289.2" stroke="#444" stroke-width="0.5" />
<line x1="360.95" y1="287.8" x2="360.95" y2="289.2" stroke="#444" stroke-width="0.5" />
<line x1="362.24" y1="287.8" x2="362.24" y2="289.2" stroke="#444" stroke-width="0.5" />
<line x1="363.38" y1="287.8" x2="363.38" y2="289.2" stroke="#444" stroke-width="0.5" />
<line x1="371.11" y1="287.8" x2="371.11" y2="289.2" stroke="#444" stroke-width="0.5" />
<line x1="375.04" y1="287.8" x2="375.04" y2="289.2" stroke="#444" stroke-width="0.5" />
<line x1="377.83" y1="287.8" x2="377.83" y2="289.2" stroke="#444" stroke-width="0.5" />
<line x1="379.99" y1="287.8" x2="379.99" y2="289.2" stroke="#444" stroke-width="0.5" />
<line x1="381.75" y1="287.8" x2="381.75" y2="289.2" stroke="#444" stroke-width="0.5" />
<line x1="383.25" y1="287.8" x2="383.25" y2="289.2" stroke="#444" stroke-width="0.5" />
<line x1="384.54" y1="287.8" x2="384.54" y2="289.2" stroke="#444" stroke-width="0.5" />
<line x1="315.4" y1="287.8" x2="315.4" y2="289.2" stroke="#444" stroke-width="0.5" />
<line x1="312.4" y1="287.8" x2="312.4" y2="289.2" stroke="#444" stroke-width="0.5" />
<line x1="309.4" y1="287.8" x2="309.4" y2="289.2" stroke="#444" stroke-width="0.5" />
<line x1="306.4" y1="287.8" x2="306.4" y2="289.2" stroke="#444" stroke-width="0.5" />
<line x1="303.4" y1="287.8" x2="303.4" y2="289.2" stroke="#444" stroke-width="0.5" />
<line x1="300.4" y1="287.8" x2="300.4" y2="289.2" stroke="#444" stroke-width="0.5" />
<line x1="294.4" y1="287.8" x2="294.4" y2="289.2" stroke="#444" stroke-width="0.5" />
<line x1="291.4" y1="287.8" x2="291.4" y2="289.2" stroke="#444" stroke-width="0.5" />
<line x1="288.4" y1="287.8" x2="288.4" y2="289.2" stroke="#444" stroke-width="0.5" />
<rect x="417.5" y="189.8" width="98.7" height="98" fill="none" stroke="#808080" stroke-width="0.85"/>
<line x1="450.7" y1="189.8" x2="450.7" y2="287.8" stroke="#808080" stroke-width="0.85" />
<line x1="417.5" y1="243.4" x2="516.2" y2="243.4" stroke="#808080" stroke-width="0.85" />
<line x1="415.1" y1="212.2" x2="417.5" y2="212.2" stroke="#333" stroke-width="0.7" />
<text x="413.5" y="214" font-size="4.6" text-anchor="end" font-family="Liberation Sans, sans-serif" fill="#222">10<tspan font-size="3.1" dy="-1.8">3</tspan></text>
<line x1="415.1" y1="234.4" x2="417.5" y2="234.4" stroke="#333" stroke-width="0.7" />
<text x="413.5" y="236.2" font-size="4.6" text-anchor="end" font-family="Liberation Sans, sans-serif" fill="#222">10<tspan font-size="3.1" dy="-1.8">2</tspan></text>
<line x1="415.1" y1="257.6" x2="417.5" y2="257.6" stroke="#333" stroke-width="0.7" />
<text x="413.5" y="259.4" font-size="4.6" text-anchor="end" font-family="Liberation Sans, sans-serif" fill="#222">10<tspan font-size="3.1" dy="-1.8">1</tspan></text>
<line x1="415.1" y1="277.4" x2="417.5" y2="277.4" stroke="#333" stroke-width="0.7" />
<text x="412.9" y="279.2" font-size="4.7" text-anchor="end" font-weight="normal" font-family="Liberation Sans, sans-serif" fill="#222" >0</text>
<line x1="428.1" y1="287.8" x2="428.1" y2="290.2" stroke="#333" stroke-width="0.7" />
<text x="428.1" y="297.6" font-size="4.7" text-anchor="middle" font-weight="normal" font-family="Liberation Sans, sans-serif" fill="#222" >0</text>
<line x1="448.1" y1="287.8" x2="448.1" y2="290.2" stroke="#333" stroke-width="0.7" />
<text x="448.2" y="297.6" font-size="4.6" text-anchor="middle" font-family="Liberation Sans, sans-serif" fill="#222">10<tspan font-size="3.1" dy="-1.8">1</tspan></text>
<line x1="471.8" y1="287.8" x2="471.8" y2="290.2" stroke="#333" stroke-width="0.7" />
<text x="471.9" y="297.6" font-size="4.6" text-anchor="middle" font-family="Liberation Sans, sans-serif" fill="#222">10<tspan font-size="3.1" dy="-1.8">2</tspan></text>
<line x1="494.1" y1="287.8" x2="494.1" y2="290.2" stroke="#333" stroke-width="0.7" />
<text x="494.2" y="297.6" font-size="4.6" text-anchor="middle" font-family="Liberation Sans, sans-serif" fill="#222">10<tspan font-size="3.1" dy="-1.8">3</tspan></text>
<line x1="416.1" y1="227.72" x2="417.5" y2="227.72" stroke="#444" stroke-width="0.5" />
<line x1="416.1" y1="223.81" x2="417.5" y2="223.81" stroke="#444" stroke-width="0.5" />
<line x1="416.1" y1="221.03" x2="417.5" y2="221.03" stroke="#444" stroke-width="0.5" />
<line x1="416.1" y1="218.88" x2="417.5" y2="218.88" stroke="#444" stroke-width="0.5" />
<line x1="416.1" y1="217.13" x2="417.5" y2="217.13" stroke="#444" stroke-width="0.5" />
<line x1="416.1" y1="215.64" x2="417.5" y2="215.64" stroke="#444" stroke-width="0.5" />
<line x1="416.1" y1="214.35" x2="417.5" y2="214.35" stroke="#444" stroke-width="0.5" />
<line x1="416.1" y1="213.22" x2="417.5" y2="213.22" stroke="#444" stroke-width="0.5" />
<line x1="416.1" y1="250.62" x2="417.5" y2="250.62" stroke="#444" stroke-width="0.5" />
<line x1="416.1" y1="246.53" x2="417.5" y2="246.53" stroke="#444" stroke-width="0.5" />
<line x1="416.1" y1="243.63" x2="417.5" y2="243.63" stroke="#444" stroke-width="0.5" />
<line x1="416.1" y1="241.38" x2="417.5" y2="241.38" stroke="#444" stroke-width="0.5" />
<line x1="416.1" y1="239.55" x2="417.5" y2="239.55" stroke="#444" stroke-width="0.5" />
<line x1="416.1" y1="237.99" x2="417.5" y2="237.99" stroke="#444" stroke-width="0.5" />
<line x1="416.1" y1="236.65" x2="417.5" y2="236.65" stroke="#444" stroke-width="0.5" />
<line x1="416.1" y1="235.46" x2="417.5" y2="235.46" stroke="#444" stroke-width="0.5" />
<line x1="416.1" y1="205.52" x2="417.5" y2="205.52" stroke="#444" stroke-width="0.5" />
<line x1="416.1" y1="201.61" x2="417.5" y2="201.61" stroke="#444" stroke-width="0.5" />
<line x1="416.1" y1="198.83" x2="417.5" y2="198.83" stroke="#444" stroke-width="0.5" />
<line x1="416.1" y1="196.68" x2="417.5" y2="196.68" stroke="#444" stroke-width="0.5" />
<line x1="416.1" y1="194.93" x2="417.5" y2="194.93" stroke="#444" stroke-width="0.5" />
<line x1="416.1" y1="193.44" x2="417.5" y2="193.44" stroke="#444" stroke-width="0.5" />
<line x1="416.1" y1="192.15" x2="417.5" y2="192.15" stroke="#444" stroke-width="0.5" />
<line x1="416.1" y1="191.02" x2="417.5" y2="191.02" stroke="#444" stroke-width="0.5" />
<line x1="416.1" y1="260.6" x2="417.5" y2="260.6" stroke="#444" stroke-width="0.5" />
<line x1="416.1" y1="263.6" x2="417.5" y2="263.6" stroke="#444" stroke-width="0.5" />
<line x1="416.1" y1="266.6" x2="417.5" y2="266.6" stroke="#444" stroke-width="0.5" />
<line x1="416.1" y1="269.6" x2="417.5" y2="269.6" stroke="#444" stroke-width="0.5" />
<line x1="416.1" y1="272.6" x2="417.5" y2="272.6" stroke="#444" stroke-width="0.5" />
<line x1="416.1" y1="275.6" x2="417.5" y2="275.6" stroke="#444" stroke-width="0.5" />
<line x1="416.1" y1="278.6" x2="417.5" y2="278.6" stroke="#444" stroke-width="0.5" />
<line x1="416.1" y1="281.6" x2="417.5" y2="281.6" stroke="#444" stroke-width="0.5" />
<line x1="416.1" y1="284.6" x2="417.5" y2="284.6" stroke="#444" stroke-width="0.5" />
<line x1="455.23" y1="287.8" x2="455.23" y2="289.2" stroke="#444" stroke-width="0.5" />
<line x1="459.41" y1="287.8" x2="459.41" y2="289.2" stroke="#444" stroke-width="0.5" />
<line x1="462.37" y1="287.8" x2="462.37" y2="289.2" stroke="#444" stroke-width="0.5" />
<line x1="464.67" y1="287.8" x2="464.67" y2="289.2" stroke="#444" stroke-width="0.5" />
<line x1="466.54" y1="287.8" x2="466.54" y2="289.2" stroke="#444" stroke-width="0.5" />
<line x1="468.13" y1="287.8" x2="468.13" y2="289.2" stroke="#444" stroke-width="0.5" />
<line x1="469.5" y1="287.8" x2="469.5" y2="289.2" stroke="#444" stroke-width="0.5" />
<line x1="470.72" y1="287.8" x2="470.72" y2="289.2" stroke="#444" stroke-width="0.5" />
<line x1="478.51" y1="287.8" x2="478.51" y2="289.2" stroke="#444" stroke-width="0.5" />
<line x1="482.44" y1="287.8" x2="482.44" y2="289.2" stroke="#444" stroke-width="0.5" />
<line x1="485.23" y1="287.8" x2="485.23" y2="289.2" stroke="#444" stroke-width="0.5" />
<line x1="487.39" y1="287.8" x2="487.39" y2="289.2" stroke="#444" stroke-width="0.5" />
<line x1="489.15" y1="287.8" x2="489.15" y2="289.2" stroke="#444" stroke-width="0.5" />
<line x1="490.65" y1="287.8" x2="490.65" y2="289.2" stroke="#444" stroke-width="0.5" />
<line x1="491.94" y1="287.8" x2="491.94" y2="289.2" stroke="#444" stroke-width="0.5" />
<line x1="493.08" y1="287.8" x2="493.08" y2="289.2" stroke="#444" stroke-width="0.5" />
<line x1="500.81" y1="287.8" x2="500.81" y2="289.2" stroke="#444" stroke-width="0.5" />
<line x1="504.74" y1="287.8" x2="504.74" y2="289.2" stroke="#444" stroke-width="0.5" />
<line x1="507.53" y1="287.8" x2="507.53" y2="289.2" stroke="#444" stroke-width="0.5" />
<line x1="509.69" y1="287.8" x2="509.69" y2="289.2" stroke="#444" stroke-width="0.5" />
<line x1="511.45" y1="287.8" x2="511.45" y2="289.2" stroke="#444" stroke-width="0.5" />
<line x1="512.95" y1="287.8" x2="512.95" y2="289.2" stroke="#444" stroke-width="0.5" />
<line x1="514.24" y1="287.8" x2="514.24" y2="289.2" stroke="#444" stroke-width="0.5" />
<line x1="445.1" y1="287.8" x2="445.1" y2="289.2" stroke="#444" stroke-width="0.5" />
<line x1="442.1" y1="287.8" x2="442.1" y2="289.2" stroke="#444" stroke-width="0.5" />
<line x1="439.1" y1="287.8" x2="439.1" y2="289.2" stroke="#444" stroke-width="0.5" />
<line x1="436.1" y1="287.8" x2="436.1" y2="289.2" stroke="#444" stroke-width="0.5" />
<line x1="433.1" y1="287.8" x2="433.1" y2="289.2" stroke="#444" stroke-width="0.5" />
<line x1="430.1" y1="287.8" x2="430.1" y2="289.2" stroke="#444" stroke-width="0.5" />
<line x1="424.1" y1="287.8" x2="424.1" y2="289.2" stroke="#444" stroke-width="0.5" />
<line x1="421.1" y1="287.8" x2="421.1" y2="289.2" stroke="#444" stroke-width="0.5" />
<line x1="418.1" y1="287.8" x2="418.1" y2="289.2" stroke="#444" stroke-width="0.5" />
<defs><filter id="bl1" x="-50%" y="-50%" width="200%" height="200%"><feGaussianBlur stdDeviation="1.2"/></filter><filter id="bl05" x="-50%" y="-50%" width="200%" height="200%"><feGaussianBlur stdDeviation="0.6"/></filter></defs>
<path d="M303.8,70C303.97,69.1 306.13,67.98 308,67.2C309.87,66.42 312.33,65.73 315,65.3C317.67,64.87 321.17,64.67 324,64.6C326.83,64.53 329.75,64.57 332,64.9C334.25,65.23 336.35,65.75 337.5,66.6C338.65,67.45 338.93,68.85 338.9,70C338.87,71.15 338.62,72.67 337.3,73.5C335.98,74.33 333.55,74.73 331,75C328.45,75.27 325,75.23 322,75.1C319,74.97 315.5,74.62 313,74.2C310.5,73.78 308.53,73.3 307,72.6C305.47,71.9 303.63,70.9 303.8,70Z" fill="none" stroke="#151515" stroke-width="0.55"/>
<path d="M309.2,70C309.31,69.35 310.75,68.56 312.04,67.97C313.32,67.38 314.81,66.88 316.91,66.45C319.01,66.02 321.9,65.49 324.62,65.4C327.35,65.31 331.13,65.57 333.29,65.91C335.44,66.25 336.66,66.75 337.54,67.43C338.43,68.11 338.62,69.13 338.6,70C338.58,70.87 338.42,71.97 337.4,72.65C336.37,73.33 334.94,73.82 332.45,74.09C329.97,74.35 325.31,74.4 322.48,74.24C319.65,74.08 317.33,73.52 315.48,73.13C313.63,72.73 312.41,72.4 311.36,71.88C310.31,71.36 309.09,70.65 309.2,70Z" fill="none" stroke="#151515" stroke-width="0.55"/>
<path d="M314.6,70C314.66,69.6 315.37,69.14 316.07,68.74C316.77,68.34 317.29,68.02 318.82,67.6C320.35,67.17 322.62,66.31 325.25,66.2C327.88,66.09 332.52,66.57 334.57,66.92C336.63,67.26 336.97,67.75 337.59,68.26C338.21,68.78 338.31,69.41 338.3,70C338.29,70.59 338.23,71.27 337.5,71.8C336.77,72.33 336.33,72.91 333.91,73.18C331.49,73.44 325.62,73.57 322.96,73.38C320.31,73.19 319.16,72.43 317.96,72.06C316.75,71.69 316.28,71.5 315.72,71.16C315.16,70.81 314.54,70.4 314.6,70Z" fill="none" stroke="#151515" stroke-width="0.55"/>
<path d="M320,70C320,69.85 319.99,69.72 320.11,69.51C320.23,69.3 319.76,69.16 320.72,68.74C321.69,68.32 323.35,67.14 325.87,67C328.4,66.86 333.9,67.58 335.86,67.93C337.82,68.28 337.27,68.75 337.63,69.09C337.99,69.44 338.01,69.69 338,70C337.99,70.31 338.04,70.57 337.6,70.95C337.16,71.32 337.72,72 335.36,72.26C333.01,72.52 325.93,72.73 323.45,72.52C320.96,72.3 321,71.33 320.44,70.98C319.88,70.64 320.16,70.6 320.08,70.43C320.01,70.27 320,70.15 320,70Z" fill="none" stroke="#151515" stroke-width="0.55"/>
<path d="M320.5,70C320.5,69.87 320.49,69.76 320.59,69.58C320.7,69.4 320.29,69.28 321.14,68.92C321.98,68.55 323.44,67.53 325.66,67.41C327.87,67.29 332.7,67.91 334.42,68.21C336.14,68.51 335.66,68.92 335.98,69.22C336.29,69.52 336.3,69.73 336.3,70C336.3,70.27 336.33,70.49 335.95,70.82C335.56,71.14 336.06,71.73 333.99,71.95C331.92,72.18 325.71,72.36 323.52,72.17C321.34,71.99 321.37,71.15 320.88,70.85C320.39,70.55 320.64,70.52 320.57,70.37C320.51,70.23 320.5,70.13 320.5,70Z" fill="none" stroke="#151515" stroke-width="0.55"/>
<path d="M321,70C321,69.89 320.99,69.8 321.08,69.64C321.17,69.49 320.82,69.39 321.55,69.09C322.27,68.79 323.53,67.92 325.44,67.82C327.34,67.73 331.5,68.24 332.98,68.5C334.46,68.75 334.05,69.09 334.32,69.34C334.59,69.59 334.6,69.78 334.6,70C334.6,70.22 334.63,70.41 334.3,70.69C333.96,70.96 334.39,71.45 332.61,71.64C330.83,71.83 325.48,71.98 323.6,71.83C321.72,71.67 321.75,70.97 321.33,70.71C320.91,70.46 321.12,70.43 321.06,70.31C321.01,70.2 321,70.11 321,70Z" fill="none" stroke="#151515" stroke-width="0.55"/>
<path d="M321.5,70C321.5,69.91 321.49,69.83 321.57,69.71C321.64,69.59 321.35,69.51 321.96,69.26C322.57,69.02 323.62,68.32 325.22,68.24C326.82,68.16 330.3,68.58 331.54,68.78C332.78,68.99 332.44,69.26 332.67,69.47C332.89,69.67 332.9,69.82 332.9,70C332.9,70.18 332.92,70.33 332.64,70.56C332.37,70.78 332.72,71.18 331.23,71.33C329.74,71.48 325.26,71.6 323.68,71.48C322.11,71.35 322.13,70.78 321.78,70.58C321.42,70.37 321.6,70.35 321.55,70.25C321.51,70.16 321.5,70.09 321.5,70Z" fill="none" stroke="#151515" stroke-width="0.55"/>
<path d="M322,70C322,69.93 321.99,69.87 322.05,69.78C322.12,69.68 321.88,69.62 322.37,69.43C322.86,69.25 323.71,68.71 325,68.65C326.29,68.59 329.1,68.91 330.1,69.07C331.11,69.22 330.83,69.44 331.01,69.59C331.19,69.75 331.2,69.86 331.2,70C331.2,70.14 331.22,70.26 330.99,70.43C330.77,70.6 331.06,70.9 329.85,71.02C328.65,71.14 325.03,71.23 323.76,71.13C322.49,71.04 322.51,70.6 322.22,70.44C321.94,70.29 322.08,70.27 322.04,70.2C322.01,70.12 322,70.07 322,70Z" fill="none" stroke="#151515" stroke-width="0.55"/>
<path d="M322.5,70C322.5,69.95 322.49,69.91 322.54,69.85C322.59,69.78 322.41,69.74 322.78,69.61C323.16,69.48 323.8,69.1 324.78,69.06C325.77,69.02 327.9,69.24 328.67,69.35C329.43,69.46 329.22,69.61 329.36,69.72C329.5,69.82 329.5,69.9 329.5,70C329.5,70.1 329.51,70.18 329.34,70.3C329.17,70.41 329.39,70.63 328.47,70.71C327.56,70.79 324.81,70.85 323.84,70.79C322.87,70.72 322.89,70.42 322.67,70.31C322.45,70.2 322.56,70.19 322.53,70.14C322.5,70.08 322.5,70.05 322.5,70Z" fill="none" stroke="#151515" stroke-width="0.55"/>
<ellipse cx="328" cy="70" rx="6.5" ry="2.3" fill="#333" opacity="0.35" filter="url(#bl05)"/>
<ellipse cx="325.5" cy="70" rx="2.6" ry="0.8" fill="#ddd" opacity="0.9"/>
<path d="M288.6,63.5 L296.9,70.2 L288.6,77 Z" fill="none" stroke="#222" stroke-width="0.6"/>
<path d="M288.3,63.5 C290,66 292.2,68.5 292.2,70.5 C292.2,74 290.5,78 291,81.5 L288.3,81.5 Z" fill="#111"/>
<path d="M288.3,83 C290,84 292.6,88 292.8,96 C293,106 292.6,116 291.5,122 C290.8,125 289.5,127 288.3,127.5 Z" fill="#111"/>
<path d="M288.3,82.5 C291,84 294,90 294.2,100 C294.4,112 293,121 288.3,129" fill="none" stroke="#333" stroke-width="0.5"/>
<path d="M292.5,92.2 C297,92.2 301,92.4 304,92 C310,90 316,87.5 322,86 C330,84.3 338,83.6 345,83.7 C350,83.8 353,85 354,88.5 C355,93 354,99 353,102 C352,105 350.5,106.5 350,108.5 C349.5,111 348,115 344,117.5 C340,120 335,122 330,121.5 C324,120.5 318,117 312,114 C307,112 300,112.2 292.5,113" fill="none" stroke="#151515" stroke-width="0.6"/>
<path d="M292.5,95.5 C297,95.5 301,95.7 304.5,95 C310,92 318,89 326,87.5 C334,86.2 342,86 347,86.5 C351,87.2 352.5,90 352.5,94 C352.5,100 351.5,105 349,110 C346,115 340,118.5 334,119 C327,119 320,114 313,110 C308,107.5 303,107 292.5,107.2" fill="none" stroke="#151515" stroke-width="0.55"/>
<path d="M305,98.5C305,97.25 307.83,96.25 310,95C312.17,93.75 315.17,92.12 318,91C320.83,89.88 324,88.93 327,88.3C330,87.67 333.17,87.37 336,87.2C338.83,87.03 341.75,87.03 344,87.3C346.25,87.57 348.25,87.85 349.5,88.8C350.75,89.75 351.25,91.13 351.5,93C351.75,94.87 351.5,97.67 351,100C350.5,102.33 349.58,104.83 348.5,107C347.42,109.17 346.08,111.33 344.5,113C342.92,114.67 340.92,116.25 339,117C337.08,117.75 335.17,117.92 333,117.5C330.83,117.08 328.5,116 326,114.5C323.5,113 320.67,110.5 318,108.5C315.33,106.5 312.17,104.17 310,102.5C307.83,100.83 305,99.75 305,98.5Z" fill="none" stroke="#151515" stroke-width="0.5"/>
<path d="M308.42,98.67C308.42,97.54 310.77,96.67 312.6,95.53C314.43,94.38 316.94,92.88 319.41,91.77C321.88,90.67 324.61,89.63 327.42,88.92C330.24,88.21 333.48,87.68 336.3,87.51C339.12,87.33 342.15,87.52 344.36,87.85C346.56,88.18 348.33,88.57 349.53,89.51C350.72,90.45 351.24,91.7 351.52,93.46C351.81,95.23 351.7,97.88 351.24,100.1C350.77,102.32 349.83,104.76 348.73,106.79C347.62,108.82 346.2,110.8 344.62,112.3C343.04,113.81 341.09,115.17 339.24,115.82C337.4,116.47 335.59,116.61 333.54,116.21C331.48,115.82 329.23,114.84 326.89,113.44C324.55,112.04 321.89,109.68 319.51,107.82C317.13,105.95 314.46,103.78 312.61,102.26C310.76,100.73 308.42,99.79 308.42,98.67Z" fill="none" stroke="#151515" stroke-width="0.5"/>
<path d="M311.83,98.83C311.83,97.84 313.71,97.1 315.2,96.05C316.7,95 318.71,93.63 320.81,92.55C322.92,91.46 325.22,90.32 327.85,89.53C330.48,88.74 333.79,88 336.6,87.81C339.41,87.62 342.56,88 344.72,88.4C346.88,88.8 348.42,89.3 349.56,90.22C350.69,91.14 351.22,92.26 351.54,93.93C351.86,95.59 351.91,98.1 351.47,100.21C351.04,102.32 350.08,104.68 348.95,106.58C347.83,108.48 346.31,110.26 344.73,111.61C343.16,112.95 341.26,114.09 339.48,114.65C337.71,115.2 336.02,115.3 334.07,114.92C332.12,114.55 329.96,113.68 327.78,112.38C325.61,111.09 323.11,108.86 321.02,107.13C318.92,105.4 316.75,103.4 315.22,102.01C313.68,100.63 311.84,99.83 311.83,98.83Z" fill="none" stroke="#151515" stroke-width="0.5"/>
<path d="M315.25,99C315.25,98.13 316.64,97.52 317.81,96.58C318.97,95.63 320.48,94.39 322.22,93.32C323.97,92.25 325.83,91.02 328.27,90.15C330.72,89.28 334.1,88.32 336.9,88.12C339.71,87.92 342.96,88.48 345.08,88.95C347.19,89.42 348.5,90.02 349.58,90.93C350.66,91.84 351.21,92.83 351.56,94.39C351.92,95.95 352.11,98.31 351.71,100.31C351.31,102.31 350.32,104.6 349.18,106.37C348.03,108.14 346.43,109.73 344.85,110.91C343.28,112.1 341.43,113.02 339.73,113.47C338.02,113.92 336.45,113.99 334.61,113.64C332.77,113.28 330.69,112.52 328.68,111.33C326.66,110.13 324.34,108.04 322.53,106.45C320.72,104.85 319.04,103.01 317.82,101.77C316.61,100.53 315.25,99.87 315.25,99Z" fill="none" stroke="#151515" stroke-width="0.5"/>
<path d="M318.67,99.17C318.66,98.43 319.58,97.95 320.41,97.1C321.24,96.26 322.25,95.15 323.63,94.1C325.01,93.04 326.44,91.71 328.7,90.77C330.96,89.82 334.42,88.64 337.21,88.43C340,88.22 343.37,88.96 345.44,89.5C347.5,90.03 348.59,90.75 349.61,91.64C350.63,92.53 351.19,93.39 351.58,94.85C351.97,96.31 352.31,98.53 351.95,100.41C351.59,102.3 350.57,104.53 349.4,106.16C348.24,107.79 346.54,109.2 344.97,110.22C343.4,111.24 341.6,111.94 339.97,112.29C338.33,112.65 336.88,112.69 335.15,112.35C333.41,112.01 331.42,111.37 329.57,110.27C327.72,109.17 325.56,107.22 324.04,105.76C322.51,104.3 321.33,102.62 320.43,101.53C319.54,100.43 318.67,99.9 318.67,99.17Z" fill="none" stroke="#151515" stroke-width="0.5"/>
<path d="M322.08,99.33C322.08,98.72 322.52,98.37 323.01,97.63C323.5,96.88 324.02,95.91 325.04,94.87C326.05,93.83 327.05,92.41 329.12,91.39C331.2,90.36 334.73,88.96 337.51,88.73C340.29,88.51 343.77,89.44 345.8,90.05C347.82,90.65 348.67,91.47 349.64,92.35C350.61,93.23 351.18,93.95 351.6,95.31C352.03,96.67 352.51,98.74 352.19,100.52C351.86,102.29 350.81,104.45 349.63,105.95C348.45,107.45 346.66,108.66 345.09,109.52C343.51,110.38 341.78,110.86 340.21,111.12C338.64,111.37 337.31,111.38 335.68,111.06C334.06,110.74 332.15,110.21 330.46,109.21C328.77,108.21 326.78,106.4 325.54,105.08C324.31,103.75 323.62,102.24 323.04,101.28C322.46,100.33 322.09,99.94 322.08,99.33Z" fill="none" stroke="#151515" stroke-width="0.5"/>
<path d="M325.5,99.5C325.49,99.02 325.45,98.79 325.61,98.15C325.77,97.51 325.79,96.67 326.44,95.64C327.1,94.62 327.65,93.1 329.55,92C331.44,90.9 335.04,89.28 337.81,89.04C340.58,88.81 344.18,89.93 346.15,90.6C348.13,91.27 348.75,92.2 349.67,93.06C350.58,93.93 351.16,94.52 351.62,95.78C352.08,97.04 352.72,98.96 352.42,100.62C352.13,102.28 351.06,104.37 349.86,105.74C348.65,107.11 346.77,108.13 345.2,108.83C343.63,109.53 341.95,109.78 340.45,109.94C338.95,110.1 337.74,110.07 336.22,109.77C334.7,109.48 332.88,109.05 331.35,108.15C329.82,107.26 328,105.58 327.05,104.39C326.1,103.2 325.9,101.85 325.65,101.04C325.39,100.22 325.51,99.98 325.5,99.5Z" fill="none" stroke="#151515" stroke-width="0.5"/>
<path d="M326.12,99.42C326.11,98.97 326.07,98.76 326.22,98.15C326.37,97.55 326.39,96.76 327,95.79C327.62,94.83 328.15,93.4 329.93,92.36C331.72,91.33 335.11,89.8 337.72,89.58C340.33,89.36 343.73,90.41 345.59,91.04C347.46,91.67 348.04,92.55 348.9,93.36C349.76,94.18 350.32,94.73 350.75,95.92C351.18,97.1 351.78,98.91 351.5,100.48C351.23,102.04 350.22,104.01 349.08,105.3C347.95,106.59 346.17,107.54 344.69,108.2C343.22,108.86 341.63,109.1 340.21,109.25C338.8,109.4 337.65,109.38 336.22,109.1C334.79,108.82 333.07,108.41 331.63,107.57C330.19,106.72 328.48,105.14 327.58,104.03C326.68,102.91 326.5,101.64 326.25,100.87C326.01,100.1 326.12,99.88 326.12,99.42Z" fill="none" stroke="#151515" stroke-width="0.5"/>
<path d="M326.73,99.35C326.73,98.92 326.69,98.72 326.83,98.15C326.97,97.59 326.98,96.85 327.57,95.94C328.15,95.04 328.64,93.7 330.32,92.73C332,91.76 335.19,90.32 337.64,90.11C340.09,89.91 343.28,90.89 345.03,91.49C346.78,92.08 347.33,92.9 348.14,93.66C348.95,94.43 349.47,94.95 349.88,96.06C350.28,97.17 350.85,98.87 350.59,100.33C350.32,101.8 349.38,103.65 348.31,104.86C347.25,106.06 345.58,106.96 344.19,107.58C342.8,108.2 341.3,108.42 339.98,108.56C338.65,108.7 337.57,108.68 336.23,108.42C334.88,108.15 333.27,107.78 331.92,106.98C330.56,106.19 328.95,104.71 328.11,103.66C327.26,102.62 327.09,101.42 326.86,100.7C326.63,99.99 326.74,99.77 326.73,99.35Z" fill="none" stroke="#151515" stroke-width="0.5"/>
<path d="M327.35,99.27C327.34,98.87 327.31,98.69 327.44,98.16C327.57,97.63 327.58,96.94 328.13,96.09C328.67,95.25 329.13,94 330.7,93.09C332.27,92.18 335.26,90.84 337.55,90.65C339.85,90.46 342.83,91.38 344.47,91.93C346.11,92.48 346.63,93.25 347.38,93.96C348.14,94.68 348.62,95.16 349,96.2C349.38,97.24 349.91,98.82 349.67,100.19C349.42,101.56 348.54,103.29 347.54,104.41C346.54,105.54 344.98,106.38 343.68,106.96C342.38,107.53 340.98,107.74 339.74,107.87C338.5,108 337.49,107.98 336.23,107.74C334.98,107.49 333.46,107.14 332.2,106.4C330.93,105.66 329.42,104.28 328.63,103.3C327.85,102.32 327.68,101.21 327.47,100.54C327.25,99.87 327.35,99.67 327.35,99.27Z" fill="none" stroke="#151515" stroke-width="0.5"/>
<path d="M327.96,99.19C327.96,98.82 327.93,98.65 328.05,98.16C328.17,97.67 328.18,97.03 328.69,96.24C329.2,95.46 329.63,94.29 331.09,93.45C332.55,92.61 335.33,91.36 337.47,91.19C339.6,91.01 342.38,91.86 343.91,92.38C345.43,92.89 345.92,93.6 346.62,94.26C347.32,94.93 347.78,95.38 348.13,96.34C348.49,97.31 348.98,98.78 348.75,100.05C348.52,101.32 347.7,102.92 346.77,103.97C345.84,105.02 344.38,105.8 343.17,106.33C341.96,106.87 340.66,107.06 339.5,107.18C338.35,107.31 337.41,107.29 336.24,107.06C335.07,106.83 333.66,106.5 332.48,105.82C331.3,105.13 329.9,103.84 329.16,102.94C328.43,102.03 328.27,100.99 328.07,100.37C327.87,99.75 327.97,99.56 327.96,99.19Z" fill="none" stroke="#151515" stroke-width="0.5"/>
<path d="M328.58,99.12C328.57,98.78 328.54,98.62 328.66,98.16C328.77,97.71 328.78,97.11 329.25,96.39C329.72,95.67 330.12,94.59 331.47,93.81C332.83,93.04 335.4,91.89 337.38,91.72C339.36,91.56 341.93,92.35 343.35,92.82C344.76,93.29 345.21,93.95 345.86,94.56C346.51,95.17 346.93,95.59 347.26,96.48C347.59,97.37 348.04,98.73 347.83,99.91C347.62,101.08 346.85,102.56 345.99,103.53C345.13,104.49 343.79,105.21 342.67,105.71C341.55,106.2 340.34,106.38 339.27,106.5C338.2,106.61 337.33,106.59 336.24,106.38C335.16,106.17 333.85,105.87 332.76,105.23C331.67,104.6 330.37,103.41 329.69,102.57C329.01,101.73 328.87,100.78 328.68,100.2C328.5,99.63 328.58,99.46 328.58,99.12Z" fill="none" stroke="#151515" stroke-width="0.5"/>
<path d="M329.19,99.04C329.19,98.73 329.16,98.58 329.27,98.16C329.37,97.75 329.38,97.2 329.81,96.54C330.24,95.87 330.61,94.89 331.86,94.18C333.1,93.46 335.47,92.41 337.29,92.26C339.12,92.11 341.49,92.83 342.79,93.27C344.09,93.7 344.5,94.31 345.1,94.86C345.7,95.42 346.08,95.81 346.38,96.62C346.69,97.44 347.1,98.69 346.91,99.76C346.72,100.84 346.01,102.2 345.22,103.08C344.43,103.97 343.19,104.63 342.16,105.09C341.13,105.54 340.02,105.7 339.03,105.81C338.05,105.91 337.24,105.89 336.25,105.7C335.25,105.51 334.05,105.23 333.04,104.65C332.04,104.07 330.84,102.98 330.21,102.21C329.59,101.44 329.46,100.56 329.29,100.04C329.12,99.51 329.2,99.35 329.19,99.04Z" fill="none" stroke="#151515" stroke-width="0.5"/>
<path d="M329.81,98.96C329.8,98.68 329.78,98.54 329.88,98.17C329.97,97.79 329.98,97.29 330.37,96.69C330.77,96.08 331.1,95.19 332.24,94.54C333.38,93.89 335.54,92.93 337.21,92.79C338.87,92.66 341.04,93.32 342.22,93.71C343.41,94.11 343.79,94.66 344.33,95.17C344.88,95.67 345.23,96.02 345.51,96.77C345.79,97.51 346.17,98.64 345.99,99.62C345.82,100.6 345.17,101.84 344.45,102.64C343.73,103.45 342.59,104.05 341.65,104.46C340.71,104.87 339.7,105.02 338.8,105.12C337.9,105.21 337.16,105.2 336.25,105.02C335.34,104.85 334.24,104.59 333.33,104.06C332.41,103.54 331.31,102.54 330.74,101.85C330.17,101.15 330.05,100.35 329.9,99.87C329.74,99.39 329.81,99.25 329.81,98.96Z" fill="none" stroke="#151515" stroke-width="0.5"/>
<path d="M330.42,98.88C330.42,98.63 330.4,98.51 330.48,98.17C330.57,97.83 330.58,97.38 330.94,96.84C331.29,96.29 331.6,95.49 332.63,94.9C333.66,94.32 335.62,93.45 337.12,93.33C338.63,93.2 340.59,93.8 341.66,94.16C342.74,94.51 343.08,95.01 343.57,95.47C344.07,95.92 344.39,96.24 344.64,96.91C344.89,97.58 345.23,98.6 345.07,99.48C344.91,100.36 344.33,101.47 343.68,102.2C343.02,102.93 342,103.47 341.14,103.84C340.29,104.21 339.37,104.35 338.56,104.43C337.74,104.51 337.08,104.5 336.26,104.34C335.43,104.18 334.44,103.96 333.61,103.48C332.78,103 331.79,102.11 331.27,101.48C330.75,100.85 330.64,100.13 330.5,99.7C330.36,99.27 330.43,99.14 330.42,98.88Z" fill="none" stroke="#151515" stroke-width="0.5"/>
<path d="M331.04,98.81C331.04,98.58 331.02,98.47 331.09,98.17C331.17,97.87 331.18,97.47 331.5,96.99C331.82,96.5 332.09,95.78 333.01,95.26C333.93,94.74 335.69,93.98 337.04,93.87C338.38,93.75 340.14,94.28 341.1,94.6C342.06,94.92 342.37,95.36 342.81,95.77C343.26,96.17 343.54,96.45 343.76,97.05C343.99,97.64 344.3,98.55 344.15,99.34C344.01,100.12 343.49,101.11 342.9,101.76C342.32,102.4 341.4,102.88 340.64,103.21C339.87,103.55 339.05,103.67 338.32,103.74C337.59,103.82 337,103.8 336.26,103.66C335.52,103.52 334.63,103.32 333.89,102.9C333.15,102.47 332.26,101.68 331.8,101.12C331.33,100.56 331.24,99.92 331.11,99.53C330.98,99.15 331.04,99.04 331.04,98.81Z" fill="none" stroke="#151515" stroke-width="0.5"/>
<path d="M331.65,98.73C331.65,98.53 331.63,98.44 331.7,98.17C331.77,97.91 331.78,97.56 332.06,97.14C332.34,96.71 332.58,96.08 333.4,95.63C334.21,95.17 335.76,94.5 336.95,94.4C338.14,94.3 339.69,94.77 340.54,95.05C341.39,95.32 341.66,95.71 342.05,96.07C342.44,96.42 342.69,96.67 342.89,97.19C343.09,97.71 343.36,98.51 343.24,99.19C343.11,99.88 342.65,100.75 342.13,101.31C341.61,101.88 340.8,102.3 340.13,102.59C339.46,102.88 338.73,102.99 338.09,103.05C337.44,103.12 336.92,103.11 336.27,102.98C335.61,102.86 334.83,102.68 334.17,102.31C333.51,101.94 332.73,101.25 332.32,100.75C331.91,100.26 331.83,99.71 331.72,99.37C331.61,99.03 331.66,98.93 331.65,98.73Z" fill="none" stroke="#151515" stroke-width="0.5"/>
<path d="M332.27,98.65C332.27,98.48 332.25,98.4 332.31,98.17C332.37,97.95 332.38,97.65 332.62,97.28C332.87,96.92 333.07,96.38 333.78,95.99C334.49,95.6 335.83,95.02 336.86,94.94C337.9,94.85 339.24,95.25 339.98,95.49C340.72,95.73 340.95,96.06 341.29,96.37C341.63,96.67 341.85,96.88 342.02,97.33C342.19,97.78 342.43,98.46 342.32,99.05C342.21,99.64 341.81,100.39 341.36,100.87C340.91,101.36 340.21,101.72 339.62,101.97C339.04,102.22 338.41,102.31 337.85,102.36C337.29,102.42 336.84,102.41 336.27,102.3C335.7,102.2 335.02,102.05 334.45,101.73C333.88,101.41 333.2,100.81 332.85,100.39C332.49,99.97 332.42,99.49 332.32,99.2C332.23,98.91 332.27,98.82 332.27,98.65Z" fill="none" stroke="#151515" stroke-width="0.5"/>
<path d="M332.88,98.58C332.88,98.43 332.87,98.37 332.92,98.18C332.97,97.99 332.98,97.74 333.18,97.43C333.39,97.13 333.57,96.68 334.17,96.35C334.76,96.03 335.9,95.54 336.78,95.47C337.65,95.4 338.79,95.74 339.42,95.94C340.04,96.13 340.24,96.41 340.53,96.67C340.81,96.92 341,97.1 341.15,97.47C341.29,97.85 341.49,98.42 341.4,98.91C341.31,99.4 340.97,100.02 340.59,100.43C340.21,100.83 339.61,101.14 339.12,101.34C338.62,101.55 338.09,101.63 337.61,101.67C337.14,101.72 336.75,101.71 336.27,101.63C335.79,101.54 335.22,101.41 334.74,101.14C334.25,100.88 333.68,100.38 333.38,100.03C333.08,99.68 333.01,99.28 332.93,99.03C332.85,98.79 332.89,98.72 332.88,98.58Z" fill="none" stroke="#151515" stroke-width="0.5"/>
<path d="M333.5,98.5C333.5,98.39 333.49,98.33 333.53,98.18C333.57,98.03 333.57,97.83 333.74,97.58C333.91,97.34 334.06,96.98 334.55,96.71C335.04,96.45 335.97,96.07 336.69,96.01C337.41,95.95 338.34,96.22 338.85,96.38C339.37,96.54 339.53,96.76 339.77,96.97C340,97.17 340.15,97.31 340.27,97.61C340.39,97.91 340.56,98.37 340.48,98.77C340.4,99.16 340.13,99.66 339.81,99.99C339.5,100.31 339.01,100.55 338.61,100.72C338.2,100.89 337.76,100.95 337.38,100.99C336.99,101.02 336.67,101.02 336.28,100.95C335.89,100.88 335.41,100.77 335.02,100.56C334.62,100.35 334.15,99.95 333.9,99.66C333.66,99.38 333.6,99.06 333.54,98.87C333.47,98.67 333.5,98.61 333.5,98.5Z" fill="none" stroke="#151515" stroke-width="0.5"/>
<ellipse cx="340" cy="99" rx="11" ry="9" fill="#111" opacity="0.5" filter="url(#bl1)"/>
<ellipse cx="337" cy="98.6" rx="2.6" ry="1.6" fill="#bbb" opacity="0.7" filter="url(#bl05)"/>
<path d="M352,104.5 C354,103 358,102.6 360.5,104.5 C362.5,106.5 362.5,111 361.5,114.5 C360.5,118 357.5,119.5 354.5,118.8 C352,118 351,115.5 351.3,112 C351.5,109 350.5,106.5 352,104.5Z" fill="none" stroke="#1a1a1a" stroke-width="0.6"/>
<ellipse cx="356.2" cy="111.3" rx="4.0" ry="5.4" fill="none" stroke="#222" stroke-width="0.6"/>
<ellipse cx="356.2" cy="111.3" rx="2.6" ry="3.6" fill="none" stroke="#222" stroke-width="0.6"/>
<ellipse cx="356.2" cy="111.3" rx="1.3" ry="1.9" fill="none" stroke="#222" stroke-width="0.6"/>
<circle cx="356.2" cy="111.3" r="0.6" fill="#333"/>
<path d="M425,71.5C424.5,70.7 427.5,69.75 430,69C432.5,68.25 436.33,67.58 440,67C443.67,66.42 448.33,65.87 452,65.5C455.67,65.13 459.42,64.67 462,64.8C464.58,64.93 466.28,65.27 467.5,66.3C468.72,67.33 469.3,69.35 469.3,71C469.3,72.65 468.88,74.93 467.5,76.2C466.12,77.47 463.42,78.47 461,78.6C458.58,78.73 455.83,77.57 453,77C450.17,76.43 447.33,75.73 444,75.2C440.67,74.67 436.17,74.42 433,73.8C429.83,73.18 425.5,72.3 425,71.5Z" fill="none" stroke="#151515" stroke-width="0.65"/>
<path d="M439,72C439.33,71.47 441.33,70.55 443,70C444.67,69.45 446.83,69.05 449,68.7C451.17,68.35 453.83,68.03 456,67.9C458.17,67.77 460.43,67.62 462,67.9C463.57,68.18 464.8,68.75 465.4,69.6C466,70.45 466,71.93 465.6,73C465.2,74.07 464.27,75.37 463,76C461.73,76.63 459.83,76.88 458,76.8C456.17,76.72 454,75.97 452,75.5C450,75.03 447.83,74.38 446,74C444.17,73.62 442.17,73.53 441,73.2C439.83,72.87 438.67,72.53 439,72Z" fill="none" stroke="#151515" stroke-width="0.6"/>
<ellipse cx="455.7" cy="70.5" rx="1.6" ry="0.8" fill="#111"/>
<path d="M417.8,63 C420,63.2 422.6,65.5 423.2,69 C423.6,72.5 422.3,76 420,77.8 L417.8,78.2 Z" fill="#111"/>
<path d="M417.8,62.5 C421.5,63.5 425.6,67 425.8,70.5 C426,74.5 423,77.5 420.5,80 C419.5,90 419.8,100 420.5,104 C423,108 424.5,115 424,121 C423.5,125 421,128 418.5,129" fill="none" stroke="#333" stroke-width="0.55"/>
<path d="M418.5,79 C419.8,92 420.5,100 421.2,104 C422.5,110 423,117 421,124 C420.5,126 419.5,127 418.5,127.5" fill="none" stroke="#444" stroke-width="0.5"/>
<path d="M419.6,105 C421.5,110 421.8,117 420.5,123" fill="none" stroke="#333" stroke-width="0.5"/>
<path d="M418,80 C419.5,90 420,100 421,105 C423,110 423.5,117 422,123 C421,126 419.5,127.5 418,128 Z" fill="#888" opacity="0.45"/>
<path d="M418.2,84 C419,95 419.2,102 419.8,108 C420.5,114 420.3,120 418.8,125" fill="none" stroke="#333" stroke-width="0.45"/>
<path d="M440.3,114.5C440.55,113.2 441.38,111.25 443,110.2C444.62,109.15 447.5,108.58 450,108.2C452.5,107.82 455.75,107.52 458,107.9C460.25,108.28 462.42,109.4 463.5,110.5C464.58,111.6 464.75,113.12 464.5,114.5C464.25,115.88 463.58,117.77 462,118.8C460.42,119.83 457.67,120.45 455,120.7C452.33,120.95 448.25,120.75 446,120.3C443.75,119.85 442.45,118.97 441.5,118C440.55,117.03 440.05,115.8 440.3,114.5Z" fill="none" stroke="#151515" stroke-width="0.8"/>
<path d="M481,104C482.58,102.55 484.83,100.4 487,99.5C489.17,98.6 492.12,98.27 494,98.6C495.88,98.93 497.47,99.93 498.3,101.5C499.13,103.07 499.08,105.25 499,108C498.92,110.75 498.27,114.83 497.8,118C497.33,121.17 496.83,124.5 496.2,127C495.57,129.5 495.28,131.33 494,133C492.72,134.67 490.58,136.38 488.5,137C486.42,137.62 483.53,137.45 481.5,136.7C479.47,135.95 477.37,134.62 476.3,132.5C475.23,130.38 475.22,127.08 475.1,124C474.98,120.92 475.2,116.63 475.6,114C476,111.37 476.6,109.87 477.5,108.2C478.4,106.53 479.42,105.45 481,104Z" fill="none" stroke="#151515" stroke-width="0.55"/>
<path d="M481.4,104.48C482.88,103.18 484.98,101.34 486.95,100.58C488.93,99.83 491.55,99.63 493.24,99.96C494.94,100.3 496.33,101.2 497.12,102.61C497.91,104.01 497.97,105.85 497.97,108.4C497.97,110.94 497.57,114.88 497.15,117.86C496.72,120.84 496.06,123.99 495.41,126.27C494.76,128.55 494.44,130.08 493.25,131.53C492.07,132.99 490.15,134.46 488.29,134.99C486.42,135.52 483.86,135.37 482.04,134.71C480.22,134.04 478.35,132.88 477.34,131.01C476.33,129.14 476.17,126.33 475.98,123.49C475.78,120.65 475.84,116.48 476.19,113.96C476.53,111.45 477.19,109.96 478.06,108.38C478.92,106.8 479.91,105.78 481.4,104.48Z" fill="none" stroke="#151515" stroke-width="0.55"/>
<path d="M481.79,104.95C483.17,103.81 485.13,102.27 486.91,101.67C488.69,101.06 490.98,100.98 492.49,101.33C494,101.67 495.2,102.47 495.94,103.71C496.69,104.96 496.85,106.46 496.94,108.79C497.03,111.13 496.88,114.93 496.5,117.72C496.11,120.51 495.28,123.48 494.62,125.54C493.96,127.6 493.6,128.82 492.51,130.06C491.42,131.3 489.73,132.54 488.07,132.99C486.42,133.43 484.19,133.29 482.58,132.71C480.97,132.14 479.34,131.15 478.39,129.53C477.43,127.91 477.12,125.59 476.85,122.99C476.59,120.39 476.48,116.33 476.77,113.93C477.07,111.52 477.77,110.06 478.61,108.56C479.45,107.06 480.41,106.1 481.79,104.95Z" fill="none" stroke="#151515" stroke-width="0.55"/>
<path d="M482.19,105.43C483.47,104.43 485.27,103.21 486.86,102.75C488.45,102.29 490.42,102.34 491.73,102.69C493.05,103.03 494.07,103.73 494.77,104.82C495.46,105.9 495.73,107.06 495.91,109.19C496.09,111.32 496.19,114.97 495.84,117.58C495.5,120.18 494.51,122.98 493.83,124.81C493.15,126.65 492.76,127.57 491.76,128.6C490.77,129.62 489.3,130.63 487.86,130.98C486.41,131.33 484.52,131.21 483.12,130.72C481.71,130.23 480.33,129.41 479.43,128.04C478.53,126.67 478.07,124.84 477.73,122.48C477.39,120.12 477.12,116.18 477.36,113.89C477.6,111.6 478.36,110.15 479.17,108.74C479.97,107.33 480.9,106.43 482.19,105.43Z" fill="none" stroke="#151515" stroke-width="0.55"/>
<path d="M482.58,105.91C483.77,105.06 485.42,104.15 486.82,103.84C488.22,103.53 489.85,103.7 490.98,104.05C492.11,104.4 492.94,105 493.59,105.92C494.24,106.84 494.61,107.67 494.88,109.59C495.14,111.51 495.5,115.02 495.19,117.44C494.88,119.85 493.74,122.47 493.04,124.08C492.34,125.7 491.92,126.31 491.02,127.13C490.12,127.94 488.87,128.71 487.64,128.97C486.41,129.24 484.85,129.13 483.66,128.72C482.46,128.32 481.31,127.68 480.47,126.55C479.63,125.43 479.03,124.09 478.61,121.97C478.19,119.86 477.76,116.03 477.95,113.86C478.13,111.68 478.95,110.24 479.72,108.92C480.49,107.59 481.4,106.76 482.58,105.91Z" fill="none" stroke="#151515" stroke-width="0.55"/>
<path d="M482.98,106.39C484.06,105.69 485.57,105.08 486.77,104.92C487.98,104.76 489.28,105.06 490.22,105.41C491.16,105.76 491.81,106.26 492.41,107.03C493.02,107.79 493.49,108.27 493.85,109.98C494.2,111.69 494.8,115.07 494.54,117.3C494.27,119.53 492.96,121.96 492.25,123.35C491.54,124.75 491.08,125.06 490.27,125.66C489.47,126.26 488.44,126.79 487.43,126.96C486.41,127.14 485.18,127.04 484.2,126.73C483.21,126.41 482.3,125.94 481.51,125.07C480.73,124.19 479.98,123.34 479.48,121.46C478.99,119.59 478.4,115.88 478.54,113.82C478.67,111.76 479.54,110.34 480.28,109.1C481.02,107.86 481.9,107.08 482.98,106.39Z" fill="none" stroke="#151515" stroke-width="0.55"/>
<path d="M483.38,106.86C484.36,106.32 485.71,106.02 486.73,106C487.74,105.99 488.72,106.42 489.47,106.78C490.22,107.13 490.68,107.53 491.23,108.13C491.79,108.73 492.38,108.87 492.82,110.38C493.26,111.88 494.11,115.11 493.89,117.16C493.66,119.2 492.19,121.45 491.46,122.63C490.73,123.8 490.24,123.8 489.53,124.19C488.82,124.58 488.01,124.87 487.21,124.96C486.41,125.05 485.51,124.96 484.74,124.73C483.96,124.51 483.29,124.21 482.56,123.58C481.83,122.95 480.93,122.59 480.36,120.96C479.79,119.32 479.04,115.73 479.12,113.79C479.2,111.84 480.12,110.43 480.83,109.28C481.54,108.12 482.39,107.41 483.38,106.86Z" fill="none" stroke="#151515" stroke-width="0.55"/>
<path d="M483.6,107.5C484.51,107 485.77,106.72 486.71,106.7C487.65,106.69 488.55,107.09 489.25,107.42C489.95,107.75 490.37,108.13 490.89,108.69C491.4,109.25 491.94,109.38 492.35,110.78C492.76,112.18 493.55,115.19 493.34,117.09C493.13,118.99 491.77,121.1 491.1,122.19C490.42,123.28 489.96,123.28 489.31,123.65C488.65,124.01 487.9,124.28 487.16,124.36C486.42,124.44 485.59,124.37 484.87,124.15C484.15,123.94 483.52,123.66 482.85,123.08C482.17,122.49 481.34,122.15 480.81,120.63C480.28,119.11 479.59,115.77 479.66,113.95C479.74,112.14 480.59,110.83 481.25,109.75C481.9,108.68 482.69,108.01 483.6,107.5Z" fill="none" stroke="#151515" stroke-width="0.55"/>
<path d="M483.83,108.15C484.67,107.67 485.83,107.42 486.69,107.4C487.56,107.39 488.39,107.76 489.03,108.07C489.67,108.38 490.06,108.72 490.54,109.24C491.02,109.76 491.51,109.88 491.89,111.18C492.27,112.48 492.99,115.27 492.8,117.03C492.61,118.79 491.35,120.74 490.73,121.75C490.11,122.76 489.69,122.77 489.08,123.1C488.48,123.44 487.79,123.68 487.11,123.76C486.43,123.84 485.66,123.77 485,123.57C484.34,123.37 483.76,123.12 483.13,122.57C482.51,122.03 481.75,121.72 481.26,120.31C480.77,118.9 480.14,115.8 480.21,114.12C480.27,112.44 481.06,111.23 481.66,110.23C482.27,109.23 483,108.62 483.83,108.15Z" fill="none" stroke="#151515" stroke-width="0.55"/>
<path d="M484.06,108.79C484.83,108.35 485.89,108.12 486.68,108.1C487.47,108.09 488.23,108.43 488.82,108.72C489.4,109 489.76,109.32 490.19,109.79C490.63,110.27 491.08,110.38 491.43,111.58C491.77,112.78 492.44,115.34 492.26,116.97C492.08,118.59 490.94,120.38 490.37,121.31C489.8,122.24 489.41,122.25 488.86,122.56C488.31,122.87 487.68,123.09 487.05,123.17C486.43,123.24 485.73,123.17 485.13,122.99C484.52,122.81 483.99,122.57 483.42,122.07C482.85,121.57 482.16,121.28 481.71,119.99C481.27,118.69 480.68,115.83 480.75,114.29C480.81,112.74 481.53,111.62 482.08,110.71C482.63,109.79 483.3,109.22 484.06,108.79Z" fill="none" stroke="#151515" stroke-width="0.55"/>
<path d="M484.29,109.43C484.99,109.03 485.94,108.81 486.66,108.8C487.38,108.79 488.07,109.11 488.6,109.36C489.13,109.62 489.45,109.91 489.85,110.35C490.24,110.78 490.65,110.89 490.96,111.98C491.28,113.07 491.88,115.42 491.72,116.9C491.56,118.39 490.52,120.02 490.01,120.88C489.49,121.73 489.14,121.73 488.64,122.01C488.14,122.3 487.57,122.5 487,122.57C486.44,122.63 485.8,122.57 485.26,122.41C484.71,122.24 484.23,122.03 483.71,121.57C483.2,121.11 482.57,120.85 482.16,119.66C481.76,118.48 481.23,115.87 481.29,114.45C481.34,113.04 481.99,112.02 482.49,111.18C483,110.34 483.6,109.82 484.29,109.43Z" fill="none" stroke="#151515" stroke-width="0.55"/>
<path d="M484.52,110.07C485.14,109.71 486,109.51 486.64,109.5C487.29,109.49 487.9,109.78 488.38,110.01C488.86,110.24 489.14,110.51 489.5,110.9C489.85,111.3 490.22,111.39 490.5,112.38C490.78,113.37 491.32,115.5 491.18,116.84C491.03,118.18 490.1,119.67 489.64,120.44C489.18,121.21 488.87,121.21 488.42,121.47C487.97,121.72 487.46,121.91 486.95,121.97C486.44,122.03 485.88,121.98 485.38,121.83C484.89,121.67 484.46,121.48 484,121.07C483.54,120.65 482.97,120.41 482.61,119.34C482.25,118.27 481.78,115.9 481.83,114.62C481.88,113.34 482.46,112.42 482.91,111.66C483.36,110.9 483.9,110.43 484.52,110.07Z" fill="none" stroke="#151515" stroke-width="0.55"/>
<path d="M484.75,110.71C485.3,110.39 486.06,110.21 486.63,110.2C487.2,110.19 487.74,110.45 488.16,110.66C488.58,110.87 488.84,111.1 489.15,111.46C489.46,111.81 489.79,111.89 490.04,112.78C490.28,113.67 490.76,115.57 490.64,116.78C490.51,117.98 489.68,119.31 489.28,120C488.87,120.69 488.59,120.69 488.2,120.92C487.8,121.15 487.35,121.32 486.9,121.37C486.45,121.43 485.95,121.38 485.51,121.24C485.08,121.11 484.7,120.93 484.29,120.56C483.88,120.19 483.38,119.98 483.06,119.02C482.74,118.05 482.32,115.94 482.37,114.79C482.41,113.64 482.93,112.81 483.33,112.13C483.72,111.45 484.2,111.03 484.75,110.71Z" fill="none" stroke="#151515" stroke-width="0.55"/>
<path d="M484.98,111.35C485.46,111.07 486.12,110.91 486.61,110.9C487.1,110.89 487.58,111.12 487.94,111.3C488.31,111.49 488.53,111.7 488.8,112.01C489.08,112.32 489.36,112.4 489.57,113.18C489.79,113.97 490.2,115.65 490.09,116.71C489.98,117.78 489.27,118.95 488.91,119.56C488.56,120.17 488.32,120.18 487.97,120.38C487.63,120.58 487.23,120.73 486.85,120.78C486.46,120.82 486.02,120.78 485.64,120.66C485.27,120.54 484.94,120.39 484.58,120.06C484.23,119.73 483.79,119.54 483.51,118.69C483.23,117.84 482.87,115.97 482.91,114.96C482.95,113.94 483.4,113.21 483.74,112.61C484.09,112.01 484.5,111.63 484.98,111.35Z" fill="none" stroke="#151515" stroke-width="0.55"/>
<path d="M485.21,111.99C485.61,111.74 486.17,111.61 486.59,111.6C487.01,111.6 487.42,111.79 487.73,111.95C488.04,112.11 488.23,112.29 488.46,112.56C488.69,112.84 488.93,112.9 489.11,113.58C489.29,114.26 489.65,115.73 489.55,116.65C489.46,117.57 488.85,118.59 488.55,119.13C488.25,119.66 488.04,119.66 487.75,119.83C487.46,120.01 487.12,120.14 486.79,120.18C486.46,120.22 486.09,120.18 485.77,120.08C485.45,119.98 485.17,119.84 484.87,119.56C484.57,119.27 484.2,119.11 483.96,118.37C483.73,117.63 483.42,116.01 483.45,115.12C483.48,114.24 483.86,113.61 484.16,113.08C484.45,112.56 484.8,112.24 485.21,111.99Z" fill="none" stroke="#151515" stroke-width="0.55"/>
<path d="M485.44,112.63C485.77,112.42 486.23,112.31 486.58,112.3C486.92,112.3 487.25,112.46 487.51,112.6C487.76,112.73 487.92,112.89 488.11,113.12C488.3,113.35 488.5,113.4 488.65,113.98C488.8,114.56 489.09,115.8 489.01,116.59C488.93,117.37 488.43,118.24 488.19,118.69C487.94,119.14 487.77,119.14 487.53,119.29C487.29,119.44 487.01,119.55 486.74,119.58C486.47,119.62 486.17,119.59 485.9,119.5C485.64,119.41 485.41,119.3 485.16,119.05C484.91,118.81 484.61,118.67 484.41,118.05C484.22,117.42 483.97,116.04 483.99,115.29C484.02,114.54 484.33,114 484.57,113.56C484.81,113.12 485.1,112.84 485.44,112.63Z" fill="none" stroke="#151515" stroke-width="0.55"/>
<path d="M485.67,113.27C485.93,113.1 486.29,113.01 486.56,113C486.83,113 487.09,113.13 487.29,113.25C487.49,113.36 487.61,113.48 487.76,113.67C487.91,113.86 488.07,113.91 488.18,114.38C488.3,114.86 488.53,115.88 488.47,116.52C488.41,117.17 488.02,117.88 487.82,118.25C487.63,118.62 487.5,118.62 487.31,118.74C487.12,118.87 486.9,118.96 486.69,118.99C486.48,119.02 486.24,118.99 486.03,118.92C485.82,118.84 485.64,118.75 485.45,118.55C485.25,118.35 485.02,118.24 484.86,117.72C484.71,117.21 484.51,116.07 484.53,115.46C484.55,114.84 484.8,114.4 484.99,114.04C485.18,113.67 485.4,113.45 485.67,113.27Z" fill="none" stroke="#151515" stroke-width="0.55"/>
<ellipse cx="486.8" cy="115.5" rx="7.5" ry="9.5" fill="#0a0a0a" opacity="0.9" filter="url(#bl1)"/>
<ellipse cx="487" cy="113.5" rx="1" ry="1.6" fill="#666" opacity="0.6"/>
<path d="M342.5,205.3C344.83,205.45 347.18,206 349,207.2C350.82,208.4 352.4,210.12 353.4,212.5C354.4,214.88 354.77,218.25 355,221.5C355.23,224.75 355.03,228.25 354.8,232C354.57,235.75 354.32,240.33 353.6,244C352.88,247.67 351.6,250.67 350.5,254C349.4,257.33 347.98,261 347,264C346.02,267 345.13,268.83 344.6,272C344.07,275.17 344.9,281.08 343.8,283C342.7,284.92 339.9,283.5 338,283.5C336.1,283.5 333.48,284.58 332.4,283C331.32,281.42 332.32,277 331.5,274C330.68,271 328.58,268.33 327.5,265C326.42,261.67 325.53,257.5 325,254C324.47,250.5 324.5,247.67 324.3,244C324.1,240.33 323.68,236 323.8,232C323.92,228 324.22,223.42 325,220C325.78,216.58 326.83,213.78 328.5,211.5C330.17,209.22 332.67,207.33 335,206.3C337.33,205.27 340.17,205.15 342.5,205.3Z" fill="none" stroke="#151515" stroke-width="0.6"/>
<path d="M342.5,206.6C344.68,206.75 346.92,207.25 348.6,208.4C350.28,209.55 351.7,211.23 352.6,213.5C353.5,215.77 353.83,218.92 354,222C354.17,225.08 353.93,228.5 353.6,232C353.27,235.5 352.85,239.67 352,243C351.15,246.33 349.92,248.67 348.5,252C347.08,255.33 345.12,259.33 343.5,263C341.88,266.67 339.75,271.83 338.8,274C337.85,276.17 338.13,276 337.8,276C337.47,276 337.68,276.17 336.8,274C335.92,271.83 333.8,266.5 332.5,263C331.2,259.5 329.92,256.17 329,253C328.08,249.83 327.58,247.5 327,244C326.42,240.5 325.62,235.92 325.5,232C325.38,228.08 325.63,223.8 326.3,220.5C326.97,217.2 327.97,214.37 329.5,212.2C331.03,210.03 333.33,208.43 335.5,207.5C337.67,206.57 340.32,206.45 342.5,206.6Z" fill="none" stroke="#151515" stroke-width="0.55"/>
<path d="M342.36,206.93C344.44,207.08 346.55,207.59 348.18,208.7C349.81,209.81 351.2,211.36 352.14,213.6C353.09,215.84 353.65,219.01 353.83,222.15C354,225.29 353.64,229.04 353.19,232.44C352.75,235.83 352.06,239.55 351.14,242.54C350.23,245.52 349.05,247.48 347.72,250.32C346.39,253.16 344.6,256.51 343.15,259.58C341.7,262.65 339.84,266.94 339.01,268.75C338.17,270.55 338.43,270.41 338.14,270.41C337.85,270.41 338.05,270.56 337.26,268.74C336.47,266.92 334.59,262.47 333.41,259.52C332.22,256.57 331.03,253.75 330.14,251.03C329.25,248.32 328.73,246.37 328.07,243.24C327.41,240.1 326.4,235.98 326.17,232.22C325.93,228.46 326.03,223.98 326.66,220.68C327.28,217.37 328.39,214.53 329.9,212.39C331.4,210.24 333.61,208.72 335.69,207.81C337.77,206.9 340.28,206.78 342.36,206.93Z" fill="none" stroke="#151515" stroke-width="0.55"/>
<path d="M342.22,207.25C344.2,207.4 346.18,207.93 347.76,209.01C349.34,210.08 350.71,211.48 351.69,213.7C352.67,215.91 353.47,219.11 353.65,222.31C353.83,225.5 353.34,229.58 352.78,232.87C352.22,236.17 351.26,239.44 350.29,242.07C349.31,244.7 348.19,246.29 346.94,248.64C345.7,250.99 344.09,253.68 342.8,256.16C341.51,258.63 339.94,262.05 339.22,263.49C338.5,264.94 338.73,264.83 338.48,264.82C338.23,264.82 338.41,264.94 337.72,263.48C337.02,262.02 335.39,258.44 334.31,256.04C333.24,253.63 332.14,251.33 331.27,249.07C330.41,246.81 329.88,245.25 329.14,242.48C328.4,239.7 327.19,236.04 326.83,232.43C326.48,228.83 326.44,224.16 327.01,220.85C327.59,217.54 328.81,214.7 330.29,212.58C331.77,210.45 333.89,209.01 335.88,208.12C337.87,207.24 340.25,207.11 342.22,207.25Z" fill="none" stroke="#151515" stroke-width="0.55"/>
<path d="M342.09,207.58C343.96,207.73 345.81,208.27 347.34,209.31C348.86,210.34 350.21,211.6 351.23,213.8C352.26,215.99 353.29,219.21 353.48,222.46C353.67,225.71 353.05,230.11 352.38,233.31C351.7,236.5 350.47,239.33 349.43,241.61C348.4,243.88 347.33,245.11 346.17,246.96C345,248.81 343.57,250.85 342.45,252.73C341.33,254.61 340.03,257.16 339.43,258.24C338.82,259.33 339.02,259.24 338.82,259.23C338.61,259.23 338.78,259.33 338.18,258.22C337.58,257.11 336.18,254.41 335.22,252.56C334.26,250.7 333.24,248.91 332.41,247.1C331.58,245.3 331.03,244.12 330.22,241.71C329.4,239.3 327.97,236.1 327.5,232.65C327.02,229.2 326.84,224.35 327.37,221.03C327.9,217.72 329.24,214.86 330.69,212.76C332.14,210.66 334.17,209.3 336.07,208.44C337.97,207.57 340.21,207.44 342.09,207.58Z" fill="none" stroke="#151515" stroke-width="0.55"/>
<path d="M341.95,207.91C343.72,208.05 345.44,208.61 346.92,209.61C348.39,210.61 349.71,211.73 350.78,213.89C351.84,216.06 353.1,219.3 353.3,222.61C353.5,225.92 352.76,230.65 351.97,233.74C351.18,236.83 349.67,239.22 348.58,241.14C347.48,243.06 346.47,243.92 345.39,245.28C344.31,246.64 343.06,248.03 342.1,249.31C341.14,250.59 340.12,252.27 339.63,252.99C339.14,253.71 339.32,253.65 339.15,253.65C338.99,253.64 339.14,253.72 338.64,252.96C338.13,252.2 336.97,250.38 336.13,249.07C335.28,247.77 334.35,246.49 333.55,245.14C332.74,243.79 332.19,243 331.29,240.95C330.39,238.91 328.76,236.16 328.16,232.86C327.57,229.57 327.24,224.53 327.73,221.21C328.21,217.89 329.66,215.03 331.08,212.95C332.51,210.87 334.45,209.59 336.26,208.75C338.08,207.91 340.17,207.76 341.95,207.91Z" fill="none" stroke="#151515" stroke-width="0.55"/>
<path d="M341.81,208.24C343.48,208.38 345.08,208.95 346.5,209.91C347.91,210.87 349.22,211.85 350.32,213.99C351.43,216.13 352.92,219.4 353.13,222.76C353.34,226.13 352.46,231.19 351.56,234.18C350.66,237.16 348.88,239.11 347.72,240.68C346.56,242.25 345.61,242.73 344.61,243.6C343.62,244.47 342.54,245.2 341.75,245.89C340.95,246.58 340.22,247.37 339.84,247.74C339.47,248.1 339.62,248.06 339.49,248.06C339.37,248.05 339.51,248.11 339.09,247.7C338.68,247.29 337.77,246.35 337.03,245.59C336.3,244.84 335.46,244.07 334.68,243.17C333.91,242.27 333.34,241.87 332.36,240.19C331.38,238.51 329.54,236.21 328.83,233.08C328.11,229.95 327.64,224.71 328.08,221.39C328.53,218.06 330.08,215.19 331.48,213.14C332.88,211.08 334.73,209.88 336.46,209.06C338.18,208.24 340.14,208.09 341.81,208.24Z" fill="none" stroke="#151515" stroke-width="0.55"/>
<path d="M341.67,208.56C343.24,208.7 344.71,209.3 346.07,210.22C347.44,211.14 348.72,211.98 349.87,214.09C351.01,216.21 352.74,219.49 352.95,222.92C353.17,226.34 352.17,231.73 351.15,234.61C350.14,237.5 348.08,238.99 346.86,240.21C345.64,241.43 344.74,241.55 343.83,241.92C342.92,242.3 342.03,242.37 341.4,242.47C340.77,242.56 340.31,242.48 340.05,242.48C339.79,242.48 339.92,242.48 339.83,242.47C339.75,242.46 339.87,242.5 339.55,242.44C339.24,242.38 338.56,242.32 337.94,242.11C337.32,241.9 336.57,241.66 335.82,241.21C335.07,240.76 334.49,240.75 333.43,239.43C332.38,238.11 330.32,236.27 329.49,233.3C328.66,230.32 328.04,224.89 328.44,221.56C328.84,218.23 330.51,215.36 331.88,213.33C333.24,211.29 335.01,210.17 336.65,209.37C338.28,208.58 340.1,208.42 341.67,208.56Z" fill="none" stroke="#151515" stroke-width="0.55"/>
<path d="M341.64,209.42C343.13,209.55 344.52,210.11 345.81,210.98C347.1,211.85 348.31,212.64 349.4,214.64C350.49,216.64 352.12,219.74 352.32,222.97C352.53,226.2 351.58,231.3 350.62,234.02C349.66,236.74 347.71,238.16 346.56,239.31C345.4,240.46 344.55,240.57 343.69,240.92C342.83,241.27 341.98,241.35 341.38,241.43C340.79,241.52 340.35,241.45 340.11,241.45C339.86,241.45 339.98,241.44 339.9,241.44C339.82,241.43 339.94,241.47 339.64,241.41C339.34,241.35 338.7,241.29 338.11,241.1C337.52,240.9 336.81,240.67 336.1,240.25C335.39,239.82 334.84,239.81 333.84,238.56C332.84,237.32 330.9,235.59 330.11,232.78C329.32,229.96 328.74,224.84 329.12,221.7C329.49,218.55 331.07,215.84 332.37,213.92C333.66,212 335.34,210.93 336.88,210.18C338.43,209.43 340.16,209.29 341.64,209.42Z" fill="none" stroke="#151515" stroke-width="0.55"/>
<path d="M341.61,210.28C343.02,210.4 344.32,210.93 345.54,211.75C346.76,212.56 347.91,213.31 348.93,215.19C349.96,217.07 351.5,219.99 351.69,223.03C351.88,226.07 350.99,230.86 350.08,233.42C349.17,235.99 347.34,237.32 346.25,238.4C345.16,239.48 344.36,239.59 343.54,239.92C342.73,240.25 341.93,240.32 341.37,240.4C340.8,240.49 340.4,240.42 340.16,240.42C339.93,240.42 340.04,240.41 339.97,240.4C339.89,240.4 340,240.43 339.72,240.38C339.44,240.33 338.83,240.27 338.28,240.09C337.72,239.9 337.05,239.68 336.38,239.29C335.71,238.89 335.19,238.87 334.25,237.7C333.31,236.53 331.47,234.9 330.73,232.26C329.99,229.61 329.44,224.79 329.79,221.83C330.15,218.87 331.64,216.31 332.86,214.51C334.08,212.7 335.66,211.7 337.12,211C338.58,210.29 340.21,210.15 341.61,210.28Z" fill="none" stroke="#151515" stroke-width="0.55"/>
<path d="M341.58,211.13C342.9,211.25 344.13,211.74 345.28,212.51C346.43,213.28 347.5,213.97 348.46,215.74C349.43,217.5 350.88,220.24 351.06,223.09C351.24,225.94 350.4,230.43 349.54,232.83C348.69,235.23 346.97,236.48 345.94,237.49C344.92,238.51 344.16,238.61 343.4,238.92C342.63,239.23 341.88,239.29 341.35,239.37C340.82,239.45 340.44,239.39 340.22,239.39C340,239.39 340.1,239.38 340.04,239.37C339.97,239.37 340.07,239.4 339.8,239.35C339.54,239.3 338.97,239.25 338.44,239.08C337.92,238.9 337.3,238.7 336.67,238.32C336.03,237.95 335.54,237.94 334.66,236.84C333.77,235.74 332.05,234.21 331.35,231.73C330.65,229.25 330.13,224.73 330.47,221.96C330.8,219.19 332.2,216.79 333.35,215.1C334.5,213.41 335.99,212.47 337.36,211.81C338.73,211.15 340.26,211.02 341.58,211.13Z" fill="none" stroke="#151515" stroke-width="0.55"/>
<path d="M341.55,211.99C342.79,212.1 343.94,212.56 345.01,213.27C346.09,213.99 347.09,214.64 348,216.29C348.9,217.93 350.26,220.49 350.43,223.14C350.59,225.8 349.81,230 349.01,232.24C348.21,234.48 346.59,235.64 345.63,236.59C344.67,237.54 343.97,237.62 343.25,237.92C342.53,238.21 341.83,238.27 341.34,238.34C340.84,238.41 340.48,238.35 340.27,238.35C340.07,238.35 340.17,238.35 340.1,238.34C340.04,238.34 340.13,238.37 339.88,238.32C339.64,238.27 339.1,238.22 338.61,238.06C338.12,237.9 337.54,237.71 336.95,237.36C336.36,237.02 335.9,237 335.07,235.98C334.24,234.95 332.62,233.53 331.97,231.21C331.31,228.9 330.83,224.68 331.14,222.09C331.45,219.51 332.77,217.27 333.84,215.69C334.92,214.11 336.31,213.24 337.6,212.62C338.88,212 340.32,211.88 341.55,211.99Z" fill="none" stroke="#151515" stroke-width="0.55"/>
<path d="M341.52,212.85C342.67,212.95 343.75,213.37 344.75,214.04C345.75,214.7 346.69,215.31 347.53,216.83C348.37,218.36 349.64,220.73 349.79,223.2C349.95,225.67 349.22,229.56 348.47,231.64C347.73,233.72 346.22,234.8 345.33,235.68C344.43,236.56 343.77,236.64 343.11,236.92C342.44,237.19 341.78,237.24 341.32,237.31C340.86,237.38 340.52,237.32 340.33,237.32C340.14,237.32 340.23,237.32 340.17,237.31C340.11,237.3 340.2,237.33 339.97,237.29C339.73,237.25 339.24,237.2 338.78,237.05C338.33,236.9 337.78,236.72 337.23,236.4C336.68,236.08 336.25,236.07 335.48,235.12C334.7,234.16 333.2,232.84 332.59,230.69C331.98,228.54 331.52,224.63 331.82,222.23C332.11,219.82 333.33,217.75 334.34,216.28C335.34,214.82 336.64,214 337.83,213.43C339.03,212.86 340.37,212.74 341.52,212.85Z" fill="none" stroke="#151515" stroke-width="0.55"/>
<path d="M341.49,213.7C342.56,213.8 343.55,214.19 344.48,214.8C345.41,215.42 346.28,215.97 347.06,217.38C347.84,218.79 349.02,220.98 349.16,223.26C349.31,225.54 348.63,229.13 347.94,231.05C347.25,232.97 345.85,233.97 345.02,234.78C344.19,235.59 343.58,235.66 342.96,235.91C342.34,236.16 341.73,236.21 341.3,236.28C340.87,236.34 340.56,236.29 340.39,236.29C340.21,236.29 340.29,236.28 340.24,236.28C340.18,236.27 340.26,236.3 340.05,236.26C339.83,236.22 339.37,236.18 338.95,236.04C338.53,235.9 338.02,235.74 337.51,235.44C337,235.14 336.6,235.13 335.89,234.25C335.17,233.38 333.77,232.15 333.21,230.17C332.64,228.19 332.22,224.57 332.49,222.36C332.76,220.14 333.9,218.23 334.83,216.87C335.76,215.52 336.96,214.77 338.07,214.24C339.18,213.71 340.42,213.61 341.49,213.7Z" fill="none" stroke="#151515" stroke-width="0.55"/>
<path d="M341.46,214.56C342.44,214.64 343.36,215.01 344.22,215.57C345.07,216.13 345.88,216.64 346.59,217.93C347.31,219.22 348.39,221.23 348.53,223.32C348.66,225.4 348.04,228.69 347.4,230.45C346.76,232.21 345.48,233.13 344.71,233.87C343.95,234.61 343.38,234.68 342.81,234.91C342.24,235.14 341.68,235.19 341.29,235.25C340.89,235.3 340.61,235.26 340.44,235.26C340.28,235.26 340.36,235.25 340.31,235.25C340.25,235.24 340.33,235.27 340.13,235.23C339.93,235.19 339.51,235.15 339.12,235.03C338.73,234.9 338.26,234.75 337.79,234.48C337.32,234.21 336.96,234.2 336.29,233.39C335.63,232.59 334.35,231.47 333.83,229.65C333.3,227.83 332.92,224.52 333.17,222.49C333.42,220.46 334.46,218.7 335.32,217.46C336.18,216.22 337.29,215.54 338.31,215.05C339.33,214.57 340.47,214.47 341.46,214.56Z" fill="none" stroke="#151515" stroke-width="0.55"/>
<path d="M341.43,215.41C342.33,215.49 343.17,215.82 343.95,216.33C344.74,216.84 345.47,217.31 346.13,218.48C346.78,219.65 347.77,221.48 347.9,223.37C348.02,225.27 347.45,228.26 346.86,229.86C346.28,231.46 345.1,232.29 344.4,232.96C343.7,233.64 343.19,233.7 342.67,233.91C342.15,234.12 341.63,234.16 341.27,234.21C340.91,234.27 340.65,234.22 340.5,234.22C340.35,234.22 340.42,234.22 340.37,234.22C340.33,234.21 340.39,234.23 340.21,234.2C340.03,234.17 339.64,234.13 339.29,234.02C338.93,233.9 338.5,233.77 338.07,233.52C337.64,233.27 337.31,233.26 336.7,232.53C336.1,231.8 334.92,230.78 334.44,229.13C333.97,227.48 333.61,224.47 333.84,222.62C334.07,220.78 335.03,219.18 335.81,218.06C336.6,216.93 337.61,216.3 338.55,215.86C339.48,215.42 340.53,215.34 341.43,215.41Z" fill="none" stroke="#151515" stroke-width="0.55"/>
<path d="M341.4,216.27C342.22,216.34 342.98,216.64 343.69,217.1C344.4,217.56 345.06,217.97 345.66,219.03C346.26,220.08 347.15,221.72 347.26,223.43C347.38,225.14 346.86,227.83 346.33,229.27C345.8,230.7 344.73,231.45 344.1,232.06C343.46,232.67 343,232.72 342.52,232.91C342.05,233.1 341.58,233.14 341.26,233.18C340.93,233.23 340.69,233.19 340.55,233.19C340.42,233.19 340.48,233.19 340.44,233.18C340.4,233.18 340.46,233.2 340.3,233.17C340.13,233.14 339.78,233.11 339.46,233.01C339.13,232.9 338.75,232.78 338.35,232.56C337.96,232.33 337.66,232.32 337.11,231.67C336.56,231.01 335.5,230.09 335.06,228.61C334.63,227.12 334.31,224.42 334.52,222.76C334.72,221.1 335.59,219.66 336.3,218.65C337.01,217.63 337.94,217.07 338.78,216.68C339.63,216.28 340.58,216.2 341.4,216.27Z" fill="none" stroke="#151515" stroke-width="0.55"/>
<path d="M341.37,217.13C342.1,217.19 342.78,217.45 343.42,217.86C344.06,218.27 344.66,218.64 345.19,219.58C345.73,220.52 346.53,221.97 346.63,223.49C346.73,225 346.27,227.39 345.79,228.67C345.32,229.95 344.36,230.61 343.79,231.15C343.22,231.69 342.8,231.74 342.38,231.91C341.95,232.08 341.53,232.11 341.24,232.15C340.95,232.19 340.73,232.16 340.61,232.16C340.49,232.16 340.55,232.16 340.51,232.15C340.47,232.15 340.53,232.17 340.38,232.14C340.23,232.11 339.91,232.08 339.62,231.99C339.33,231.9 338.99,231.79 338.64,231.59C338.29,231.4 338.01,231.39 337.52,230.8C337.03,230.22 336.07,229.41 335.68,228.09C335.29,226.77 335.01,224.36 335.19,222.89C335.38,221.41 336.16,220.14 336.8,219.24C337.43,218.34 338.26,217.84 339.02,217.49C339.78,217.13 340.63,217.07 341.37,217.13Z" fill="none" stroke="#151515" stroke-width="0.55"/>
<path d="M341.34,217.98C341.99,218.04 342.59,218.27 343.16,218.63C343.72,218.98 344.25,219.31 344.72,220.13C345.2,220.95 345.91,222.22 346,223.55C346.09,224.87 345.67,226.96 345.26,228.08C344.84,229.19 343.99,229.77 343.48,230.25C342.98,230.72 342.61,230.76 342.23,230.91C341.85,231.05 341.48,231.08 341.22,231.12C340.96,231.16 340.77,231.13 340.67,231.13C340.56,231.13 340.61,231.12 340.58,231.12C340.54,231.12 340.59,231.13 340.46,231.11C340.33,231.09 340.05,231.06 339.79,230.98C339.54,230.9 339.23,230.81 338.92,230.63C338.61,230.46 338.37,230.45 337.93,229.94C337.49,229.43 336.65,228.72 336.3,227.57C335.96,226.41 335.7,224.31 335.87,223.02C336.03,221.73 336.72,220.62 337.29,219.83C337.85,219.04 338.58,218.61 339.26,218.3C339.93,217.99 340.69,217.93 341.34,217.98Z" fill="none" stroke="#151515" stroke-width="0.55"/>
<path d="M341.31,218.84C341.87,218.89 342.4,219.08 342.89,219.39C343.38,219.7 343.84,219.97 344.26,220.68C344.67,221.38 345.29,222.47 345.37,223.6C345.44,224.74 345.08,226.53 344.72,227.48C344.35,228.44 343.61,228.94 343.17,229.34C342.74,229.75 342.41,229.78 342.08,229.91C341.76,230.03 341.43,230.06 341.21,230.09C340.98,230.12 340.82,230.09 340.72,230.09C340.63,230.09 340.67,230.09 340.64,230.09C340.61,230.09 340.66,230.1 340.54,230.08C340.43,230.06 340.19,230.04 339.96,229.97C339.74,229.9 339.47,229.82 339.2,229.67C338.93,229.52 338.72,229.52 338.34,229.08C337.96,228.64 337.22,228.03 336.92,227.05C336.62,226.06 336.4,224.26 336.54,223.15C336.69,222.05 337.29,221.09 337.78,220.42C338.27,219.75 338.91,219.37 339.5,219.11C340.08,218.85 340.74,218.79 341.31,218.84Z" fill="none" stroke="#151515" stroke-width="0.55"/>
<path d="M341.28,219.7C341.76,219.74 342.21,219.9 342.63,220.15C343.04,220.41 343.44,220.64 343.79,221.22C344.14,221.81 344.67,222.72 344.74,223.66C344.8,224.6 344.49,226.09 344.18,226.89C343.87,227.68 343.24,228.1 342.87,228.44C342.49,228.77 342.22,228.8 341.94,228.91C341.66,229.01 341.39,229.03 341.19,229.06C341,229.08 340.86,229.06 340.78,229.06C340.7,229.06 340.74,229.06 340.71,229.06C340.69,229.06 340.72,229.07 340.63,229.05C340.53,229.03 340.32,229.02 340.13,228.96C339.94,228.9 339.71,228.83 339.48,228.71C339.25,228.59 339.07,228.58 338.75,228.22C338.42,227.85 337.8,227.35 337.54,226.53C337.29,225.7 337.1,224.21 337.22,223.29C337.34,222.37 337.85,221.57 338.27,221.01C338.69,220.45 339.23,220.14 339.73,219.92C340.24,219.7 340.79,219.66 341.28,219.7Z" fill="none" stroke="#151515" stroke-width="0.55"/>
<path d="M341.25,220.55C341.64,220.58 342.01,220.72 342.36,220.92C342.71,221.12 343.03,221.31 343.32,221.77C343.61,222.24 344.05,222.96 344.1,223.72C344.16,224.47 343.9,225.66 343.65,226.29C343.39,226.93 342.87,227.26 342.56,227.53C342.25,227.8 342.02,227.82 341.79,227.91C341.56,227.99 341.34,228 341.18,228.03C341.02,228.05 340.9,228.03 340.83,228.03C340.77,228.03 340.8,228.03 340.78,228.03C340.76,228.02 340.79,228.03 340.71,228.02C340.63,228.01 340.46,227.99 340.3,227.95C340.14,227.9 339.95,227.85 339.76,227.75C339.57,227.65 339.42,227.65 339.16,227.36C338.89,227.07 338.37,226.66 338.16,226.01C337.95,225.35 337.79,224.15 337.89,223.42C337.99,222.69 338.42,222.05 338.76,221.6C339.11,221.16 339.56,220.91 339.97,220.73C340.39,220.56 340.85,220.52 341.25,220.55Z" fill="none" stroke="#151515" stroke-width="0.55"/>
<path d="M341.21,221.41C341.53,221.43 341.82,221.53 342.09,221.68C342.37,221.83 342.62,221.97 342.85,222.32C343.08,222.67 343.43,223.21 343.47,223.77C343.51,224.34 343.31,225.23 343.11,225.7C342.91,226.18 342.5,226.42 342.25,226.62C342.01,226.82 341.83,226.84 341.65,226.9C341.46,226.97 341.29,226.98 341.16,226.99C341.03,227.01 340.94,227 340.89,227C340.84,227 340.86,227 340.85,226.99C340.83,226.99 340.85,227 340.79,226.99C340.73,226.98 340.59,226.97 340.47,226.94C340.34,226.9 340.19,226.86 340.04,226.79C339.89,226.71 339.78,226.71 339.57,226.49C339.36,226.28 338.94,225.97 338.78,225.48C338.61,224.99 338.49,224.1 338.57,223.55C338.65,223 338.98,222.53 339.26,222.19C339.53,221.86 339.88,221.67 340.21,221.54C340.54,221.41 340.9,221.39 341.21,221.41Z" fill="none" stroke="#151515" stroke-width="0.55"/>
<ellipse cx="340.8" cy="224" rx="10.5" ry="13.5" fill="#111" opacity="0.72" filter="url(#bl1)"/>
<ellipse cx="341.3" cy="224" rx="1.6" ry="1.8" fill="#fff" opacity="0.85" filter="url(#bl05)"/>
<path d="M314.2,287.3 C317,285.6 321,284.6 327,284.2 L327,286.4 C322,286.6 318,286.9 314.2,287.3Z" fill="#888"/>
<path d="M324,287.3 C326,285.4 332,284.2 340,283.9 C346,283.7 350,284.1 352,285.2 C352.8,285.9 352.8,286.8 352.4,287.5 C343,287.8 332,287.8 324,287.3Z" fill="#0a0a0a"/>
<path d="M443.4,248.9C443.57,247.67 445.67,247.23 447,246.6C448.33,245.97 449.73,245.52 451.4,245.1C453.07,244.68 454.95,244.32 457,244.1C459.05,243.88 461.7,243.73 463.7,243.8C465.7,243.87 467.52,244.1 469,244.5C470.48,244.9 471.68,245.28 472.6,246.2C473.52,247.12 474.15,248.03 474.5,250C474.85,251.97 474.68,255 474.7,258C474.72,261 474.58,264.67 474.6,268C474.62,271.33 474.48,275.5 474.8,278C475.12,280.5 477.63,282 476.5,283C475.37,284 471.08,283.8 468,284C464.92,284.2 461,284.2 458,284.2C455,284.2 451.67,284.2 450,284C448.33,283.8 448.37,285 448,283C447.63,281 447.97,275.83 447.8,272C447.63,268.17 447.3,263 447,260C446.7,257 446.6,255.85 446,254C445.4,252.15 443.23,250.13 443.4,248.9Z" fill="none" stroke="#151515" stroke-width="0.5"/>
<path d="M445.67,250.15C445.9,249.03 447.62,248.46 448.78,247.79C449.93,247.12 451.15,246.59 452.62,246.12C454.1,245.65 455.8,245.2 457.63,244.99C459.47,244.78 461.88,244.71 463.66,244.84C465.44,244.98 467.02,245.34 468.32,245.79C469.62,246.24 470.64,246.67 471.46,247.54C472.29,248.42 472.87,249.18 473.28,251.03C473.69,252.88 473.86,255.67 473.94,258.64C474.02,261.61 473.87,265.65 473.76,268.86C473.64,272.07 473.16,275.73 473.26,277.9C473.36,280.07 475.36,280.99 474.36,281.89C473.36,282.8 469.88,283.01 467.25,283.32C464.62,283.64 461.17,283.77 458.58,283.77C455.98,283.76 453.11,283.51 451.67,283.27C450.23,283.04 450.38,284.04 449.94,282.34C449.5,280.65 449.38,276.74 449.02,273.11C448.66,269.47 448.06,263.65 447.79,260.55C447.51,257.45 447.74,256.24 447.39,254.51C447.04,252.77 445.44,251.27 445.67,250.15Z" fill="none" stroke="#151515" stroke-width="0.5"/>
<path d="M447.94,251.41C448.24,250.4 449.57,249.7 450.55,248.98C451.53,248.27 452.56,247.66 453.85,247.14C455.13,246.62 456.64,246.09 458.27,245.88C459.9,245.67 462.05,245.68 463.61,245.88C465.18,246.08 466.53,246.58 467.65,247.08C468.76,247.58 469.59,248.06 470.33,248.89C471.06,249.71 471.58,250.32 472.06,252.06C472.53,253.79 473.03,256.34 473.17,259.29C473.31,262.23 473.16,266.63 472.92,269.71C472.67,272.8 471.83,275.96 471.71,277.8C471.6,279.65 473.09,279.98 472.22,280.79C471.35,281.59 468.68,282.22 466.5,282.65C464.32,283.07 461.35,283.35 459.15,283.33C456.96,283.32 454.55,282.82 453.34,282.55C452.13,282.27 452.39,283.08 451.88,281.69C451.36,280.3 450.79,277.64 450.23,274.21C449.68,270.78 448.81,264.31 448.57,261.11C448.33,257.91 448.88,256.63 448.78,255.01C448.67,253.4 447.65,252.41 447.94,251.41Z" fill="none" stroke="#151515" stroke-width="0.5"/>
<path d="M450.22,252.66C450.58,251.77 451.52,250.93 452.33,250.18C453.13,249.43 453.97,248.73 455.07,248.16C456.17,247.59 457.49,246.97 458.9,246.77C460.32,246.56 462.23,246.66 463.57,246.93C464.92,247.19 466.03,247.82 466.97,248.37C467.9,248.92 468.55,249.44 469.19,250.23C469.83,251.01 470.3,251.47 470.83,253.08C471.37,254.7 472.2,257.02 472.41,259.93C472.61,262.84 472.45,267.61 472.07,270.57C471.7,273.53 470.5,276.19 470.17,277.71C469.84,279.22 470.82,278.97 470.08,279.68C469.35,280.39 467.48,281.44 465.75,281.97C464.03,282.51 461.52,282.92 459.73,282.9C457.94,282.87 455.99,282.13 455.01,281.82C454.02,281.51 454.41,282.12 453.81,281.03C453.22,279.95 452.19,278.55 451.45,275.32C450.71,272.09 449.57,264.96 449.36,261.66C449.14,258.36 450.02,257.02 450.17,255.52C450.31,254.02 449.86,253.55 450.22,252.66Z" fill="none" stroke="#151515" stroke-width="0.5"/>
<path d="M452.49,253.91C452.91,253.14 453.47,252.16 454.1,251.37C454.74,250.58 455.39,249.8 456.29,249.18C457.2,248.56 458.33,247.86 459.54,247.66C460.74,247.45 462.4,247.64 463.53,247.97C464.65,248.3 465.54,249.06 466.29,249.66C467.04,250.26 467.5,250.83 468.05,251.57C468.61,252.31 469.01,252.61 469.61,254.11C470.21,255.61 471.37,257.69 471.64,260.57C471.91,263.46 471.73,268.59 471.23,271.43C470.73,274.26 469.18,276.42 468.63,277.61C468.08,278.8 468.55,277.96 467.95,278.57C467.34,279.19 466.28,280.65 465,281.3C463.73,281.95 461.7,282.5 460.31,282.47C458.92,282.43 457.44,281.44 456.68,281.09C455.92,280.75 456.42,281.16 455.75,280.38C455.08,279.6 453.6,279.45 452.67,276.43C451.73,273.4 450.33,265.61 450.14,262.21C449.95,258.81 451.16,257.41 451.56,256.03C451.95,254.65 452.06,254.69 452.49,253.91Z" fill="none" stroke="#151515" stroke-width="0.5"/>
<path d="M452.91,254.07C453.31,253.34 453.83,252.42 454.42,251.68C455.02,250.94 455.63,250.2 456.47,249.62C457.32,249.04 458.38,248.37 459.51,248.18C460.64,247.99 462.19,248.17 463.24,248.48C464.3,248.79 465.12,249.5 465.83,250.07C466.53,250.63 466.96,251.17 467.48,251.87C467.99,252.57 468.37,252.85 468.93,254.26C469.49,255.67 470.58,257.62 470.83,260.34C471.09,263.05 470.92,267.87 470.45,270.54C469.98,273.21 468.53,275.24 468.01,276.36C467.5,277.48 467.94,276.69 467.38,277.26C466.81,277.84 465.82,279.22 464.62,279.83C463.43,280.44 461.53,280.96 460.23,280.93C458.93,280.9 457.54,279.96 456.83,279.64C456.12,279.31 456.59,279.7 455.97,278.97C455.34,278.24 453.96,278.1 453.08,275.25C452.21,272.4 450.89,265.08 450.72,261.88C450.54,258.68 451.67,257.36 452.04,256.06C452.41,254.76 452.52,254.8 452.91,254.07Z" fill="none" stroke="#151515" stroke-width="0.5"/>
<path d="M453.34,254.23C453.71,253.54 454.19,252.68 454.74,251.99C455.3,251.29 455.86,250.61 456.65,250.06C457.44,249.51 458.43,248.89 459.48,248.71C460.53,248.54 461.98,248.7 462.96,248.99C463.94,249.28 464.71,249.95 465.36,250.48C466.02,251.01 466.42,251.51 466.9,252.16C467.38,252.82 467.74,253.08 468.26,254.4C468.78,255.73 469.79,257.56 470.03,260.1C470.26,262.64 470.11,267.16 469.67,269.66C469.23,272.17 467.88,274.06 467.4,275.11C466.92,276.16 467.33,275.42 466.81,275.96C466.28,276.5 465.35,277.79 464.24,278.36C463.13,278.94 461.36,279.42 460.15,279.39C458.94,279.36 457.65,278.49 456.99,278.18C456.33,277.88 456.76,278.24 456.18,277.55C455.6,276.87 454.31,276.74 453.49,274.07C452.68,271.4 451.45,264.54 451.29,261.54C451.13,258.55 452.18,257.31 452.52,256.09C452.87,254.87 452.97,254.91 453.34,254.23Z" fill="none" stroke="#151515" stroke-width="0.5"/>
<path d="M453.76,254.39C454.1,253.75 454.55,252.94 455.06,252.3C455.58,251.65 456.1,251.01 456.83,250.5C457.56,249.99 458.48,249.41 459.45,249.24C460.42,249.08 461.76,249.23 462.67,249.5C463.58,249.78 464.29,250.4 464.9,250.89C465.51,251.38 465.88,251.85 466.32,252.46C466.77,253.07 467.1,253.32 467.58,254.55C468.06,255.78 469,257.49 469.22,259.86C469.44,262.23 469.29,266.45 468.89,268.78C468.48,271.12 467.23,272.89 466.79,273.86C466.34,274.84 466.72,274.15 466.24,274.65C465.75,275.16 464.89,276.36 463.86,276.9C462.84,277.43 461.19,277.88 460.07,277.86C458.95,277.83 457.76,277.01 457.14,276.73C456.53,276.44 456.93,276.78 456.4,276.14C455.86,275.5 454.66,275.38 453.91,272.89C453.15,270.4 452.02,264 451.87,261.21C451.72,258.42 452.69,257.26 453.01,256.13C453.32,254.99 453.42,255.03 453.76,254.39Z" fill="none" stroke="#151515" stroke-width="0.5"/>
<path d="M454.19,254.55C454.5,253.95 454.91,253.21 455.38,252.6C455.86,252 456.34,251.41 457.01,250.94C457.69,250.47 458.53,249.93 459.42,249.77C460.32,249.62 461.55,249.76 462.39,250.01C463.22,250.27 463.88,250.84 464.44,251.3C465,251.76 465.33,252.19 465.75,252.76C466.16,253.32 466.46,253.55 466.9,254.7C467.35,255.84 468.21,257.42 468.41,259.62C468.61,261.82 468.48,265.74 468.11,267.9C467.73,270.07 466.58,271.71 466.17,272.62C465.77,273.52 466.11,272.88 465.67,273.35C465.22,273.82 464.43,274.94 463.48,275.43C462.54,275.93 461.02,276.35 459.99,276.32C458.96,276.29 457.86,275.54 457.3,275.27C456.73,275.01 457.11,275.32 456.61,274.73C456.11,274.14 455.01,274.02 454.32,271.71C453.63,269.41 452.58,263.47 452.44,260.87C452.3,258.28 453.2,257.21 453.49,256.16C453.78,255.1 453.87,255.14 454.19,254.55Z" fill="none" stroke="#151515" stroke-width="0.5"/>
<path d="M454.61,254.7C454.9,254.16 455.27,253.47 455.71,252.91C456.14,252.36 456.58,251.81 457.19,251.38C457.81,250.94 458.58,250.44 459.39,250.3C460.21,250.16 461.34,250.29 462.1,250.52C462.86,250.76 463.46,251.29 463.97,251.71C464.48,252.13 464.79,252.53 465.17,253.05C465.54,253.58 465.82,253.79 466.23,254.84C466.63,255.9 467.42,257.36 467.6,259.39C467.79,261.42 467.67,265.02 467.33,267.02C466.98,269.02 465.93,270.53 465.56,271.37C465.19,272.21 465.51,271.61 465.1,272.04C464.69,272.48 463.96,273.51 463.1,273.96C462.24,274.42 460.86,274.81 459.92,274.78C458.97,274.76 457.97,274.06 457.45,273.82C456.94,273.57 457.28,273.86 456.82,273.32C456.37,272.77 455.37,272.67 454.73,270.54C454.1,268.41 453.14,262.93 453.02,260.54C452.89,258.15 453.71,257.16 453.98,256.19C454.24,255.22 454.32,255.25 454.61,254.7Z" fill="none" stroke="#151515" stroke-width="0.5"/>
<path d="M455.04,254.86C455.3,254.36 455.64,253.73 456.03,253.22C456.42,252.71 456.82,252.21 457.37,251.81C457.93,251.42 458.62,250.96 459.36,250.83C460.1,250.7 461.12,250.82 461.81,251.03C462.51,251.25 463.05,251.73 463.51,252.12C463.97,252.51 464.25,252.87 464.59,253.35C464.93,253.83 465.18,254.02 465.55,254.99C465.92,255.96 466.63,257.29 466.8,259.15C466.96,261.01 466.85,264.31 466.54,266.14C466.24,267.97 465.28,269.35 464.95,270.12C464.61,270.89 464.9,270.34 464.53,270.74C464.16,271.13 463.5,272.08 462.72,272.5C461.94,272.91 460.69,273.27 459.84,273.25C458.98,273.22 458.07,272.59 457.61,272.36C457.14,272.14 457.45,272.4 457.04,271.9C456.63,271.4 455.72,271.31 455.15,269.36C454.57,267.41 453.71,262.39 453.59,260.21C453.48,258.02 454.22,257.11 454.46,256.22C454.7,255.33 454.78,255.36 455.04,254.86Z" fill="none" stroke="#151515" stroke-width="0.5"/>
<path d="M455.46,255.02C455.69,254.56 456,253.99 456.35,253.53C456.7,253.07 457.05,252.61 457.55,252.25C458.05,251.89 458.67,251.48 459.33,251.36C460,251.24 460.91,251.35 461.53,251.54C462.15,251.74 462.63,252.18 463.05,252.53C463.46,252.88 463.71,253.21 464.01,253.65C464.32,254.08 464.54,254.26 464.87,255.13C465.2,256.01 465.84,257.23 465.99,258.91C466.14,260.6 466.04,263.6 465.76,265.26C465.49,266.92 464.63,268.17 464.33,268.87C464.03,269.57 464.29,269.07 463.96,269.43C463.62,269.79 463.04,270.65 462.34,271.03C461.64,271.41 460.52,271.73 459.76,271.71C459,271.69 458.18,271.11 457.76,270.91C457.35,270.7 457.62,270.95 457.25,270.49C456.89,270.04 456.07,269.95 455.56,268.18C455.04,266.41 454.27,261.86 454.17,259.87C454.07,257.88 454.73,257.06 454.95,256.26C455.16,255.45 455.23,255.47 455.46,255.02Z" fill="none" stroke="#151515" stroke-width="0.5"/>
<path d="M455.88,255.18C456.09,254.77 456.36,254.25 456.67,253.84C456.98,253.43 457.29,253.02 457.73,252.69C458.17,252.37 458.72,252 459.31,251.89C459.89,251.78 460.7,251.88 461.24,252.05C461.79,252.23 462.22,252.63 462.58,252.94C462.95,253.26 463.17,253.56 463.44,253.95C463.71,254.34 463.9,254.49 464.19,255.28C464.49,256.07 465.05,257.16 465.18,258.67C465.31,260.19 465.22,262.88 464.98,264.38C464.74,265.87 463.98,267 463.72,267.62C463.45,268.25 463.68,267.8 463.39,268.13C463.09,268.45 462.58,269.22 461.96,269.56C461.34,269.9 460.35,270.19 459.68,270.17C459.01,270.16 458.29,269.64 457.92,269.45C457.55,269.27 457.79,269.49 457.47,269.08C457.14,268.67 456.43,268.59 455.97,267C455.52,265.41 454.84,261.32 454.75,259.54C454.65,257.75 455.24,257.01 455.43,256.29C455.62,255.56 455.68,255.58 455.88,255.18Z" fill="none" stroke="#151515" stroke-width="0.5"/>
<path d="M456.31,255.33C456.49,254.97 456.72,254.52 456.99,254.15C457.26,253.78 457.53,253.42 457.91,253.13C458.29,252.84 458.77,252.51 459.28,252.42C459.78,252.32 460.48,252.41 460.96,252.56C461.43,252.72 461.8,253.07 462.12,253.35C462.44,253.63 462.63,253.9 462.86,254.24C463.09,254.59 463.27,254.73 463.52,255.43C463.77,256.13 464.26,257.09 464.37,258.44C464.49,259.78 464.41,262.17 464.2,263.49C463.99,264.82 463.33,265.82 463.1,266.37C462.87,266.93 463.07,266.54 462.82,266.82C462.56,267.11 462.11,267.79 461.58,268.09C461.04,268.4 460.19,268.65 459.6,268.64C459.02,268.62 458.39,268.16 458.07,268C457.75,267.84 457.96,268.03 457.68,267.67C457.4,267.3 456.78,267.23 456.38,265.82C455.99,264.41 455.4,260.79 455.32,259.2C455.24,257.62 455.75,256.96 455.92,256.32C456.08,255.68 456.13,255.7 456.31,255.33Z" fill="none" stroke="#151515" stroke-width="0.5"/>
<path d="M456.73,255.49C456.89,255.18 457.08,254.78 457.31,254.46C457.53,254.14 457.77,253.82 458.09,253.57C458.41,253.32 458.82,253.03 459.25,252.95C459.68,252.87 460.27,252.94 460.67,253.08C461.07,253.21 461.39,253.52 461.66,253.76C461.92,254.01 462.09,254.24 462.28,254.54C462.48,254.84 462.63,254.96 462.84,255.57C463.05,256.18 463.47,257.03 463.56,258.2C463.66,259.37 463.6,261.46 463.42,262.61C463.24,263.77 462.69,264.64 462.49,265.13C462.29,265.61 462.46,265.27 462.25,265.52C462.03,265.77 461.65,266.36 461.2,266.63C460.74,266.89 460.02,267.12 459.52,267.1C459.03,267.09 458.5,266.68 458.23,266.54C457.96,266.4 458.14,266.57 457.9,266.25C457.66,265.94 457.13,265.88 456.8,264.65C456.46,263.41 455.96,260.25 455.9,258.87C455.83,257.48 456.26,256.92 456.4,256.35C456.54,255.79 456.58,255.81 456.73,255.49Z" fill="none" stroke="#151515" stroke-width="0.5"/>
<path d="M457.16,255.65C457.28,255.38 457.44,255.04 457.63,254.77C457.81,254.49 458.01,254.22 458.27,254.01C458.54,253.79 458.87,253.55 459.22,253.48C459.57,253.41 460.06,253.47 460.39,253.59C460.71,253.7 460.97,253.96 461.19,254.17C461.41,254.38 461.55,254.58 461.71,254.84C461.87,255.09 461.99,255.2 462.16,255.72C462.34,256.24 462.68,256.96 462.76,257.96C462.84,258.96 462.78,260.75 462.64,261.73C462.49,262.72 462.04,263.46 461.88,263.88C461.72,264.29 461.85,264 461.68,264.21C461.5,264.43 461.19,264.93 460.82,265.16C460.44,265.39 459.85,265.58 459.44,265.56C459.04,265.55 458.6,265.21 458.38,265.09C458.16,264.97 458.31,265.11 458.11,264.84C457.92,264.57 457.48,264.52 457.21,263.47C456.94,262.42 456.53,259.71 456.47,258.53C456.42,257.35 456.77,256.87 456.89,256.38C457,255.9 457.03,255.92 457.16,255.65Z" fill="none" stroke="#151515" stroke-width="0.5"/>
<path d="M457.58,255.81C457.68,255.58 457.81,255.3 457.95,255.08C458.09,254.85 458.24,254.62 458.45,254.45C458.66,254.27 458.91,254.06 459.19,254.01C459.46,253.95 459.84,254 460.1,254.1C460.36,254.19 460.56,254.41 460.73,254.58C460.9,254.76 461,254.92 461.13,255.13C461.26,255.35 461.35,255.43 461.49,255.87C461.62,256.3 461.89,256.89 461.95,257.73C462.01,258.56 461.97,260.03 461.86,260.85C461.74,261.67 461.39,262.29 461.26,262.63C461.14,262.97 461.24,262.73 461.11,262.91C460.97,263.08 460.73,263.51 460.44,263.69C460.15,263.88 459.68,264.04 459.37,264.03C459.05,264.02 458.71,263.73 458.54,263.63C458.36,263.53 458.48,263.65 458.33,263.43C458.17,263.2 457.84,263.16 457.62,262.29C457.41,261.42 457.09,259.18 457.05,258.2C457.01,257.22 457.28,256.82 457.37,256.42C457.46,256.02 457.49,256.03 457.58,255.81Z" fill="none" stroke="#151515" stroke-width="0.5"/>
<path d="M458.01,255.97C458.08,255.79 458.17,255.56 458.27,255.38C458.37,255.2 458.48,255.03 458.63,254.88C458.78,254.74 458.96,254.58 459.16,254.54C459.36,254.49 459.63,254.53 459.81,254.61C460,254.68 460.14,254.86 460.27,254.99C460.39,255.13 460.46,255.26 460.55,255.43C460.64,255.6 460.71,255.67 460.81,256.01C460.91,256.35 461.1,256.83 461.14,257.49C461.19,258.15 461.16,259.32 461.07,259.97C460.99,260.62 460.74,261.11 460.65,261.38C460.56,261.65 460.64,261.46 460.54,261.6C460.44,261.74 460.26,262.08 460.06,262.23C459.85,262.37 459.51,262.5 459.29,262.49C459.06,262.48 458.82,262.26 458.69,262.18C458.57,262.1 458.65,262.19 458.54,262.02C458.43,261.84 458.19,261.8 458.04,261.11C457.88,260.42 457.65,258.64 457.62,257.86C457.59,257.09 457.79,256.77 457.85,256.45C457.92,256.13 457.94,256.14 458.01,255.97Z" fill="none" stroke="#151515" stroke-width="0.5"/>
<ellipse cx="461" cy="264" rx="9.5" ry="16" fill="#111" opacity="0.45" filter="url(#bl1)"/>
<ellipse cx="460" cy="256.5" rx="8.5" ry="8.5" fill="#111" opacity="0.55" filter="url(#bl1)"/>
<ellipse cx="459.4" cy="258.3" rx="1.6" ry="3.2" fill="#fff" opacity="0.8" filter="url(#bl05)"/>
<circle cx="459.6" cy="268.3" r="1.6" fill="none" stroke="#444" stroke-width="0.5"/>
<circle cx="459.6" cy="276" r="1.5" fill="none" stroke="#444" stroke-width="0.5"/>
<path d="M443.4,248.2 C441,249.5 438.5,251 437.6,252.5 C436.4,254.5 436,256.5 435.4,258.3 C434.5,260.5 432.3,262.5 432.5,264.1 C432.8,266 434.2,267.3 434.7,268.5 C435.5,270.5 437,272.5 437.6,274.3 C438.4,276.5 439.5,279 439.8,282" fill="none" stroke="#222" stroke-width="0.6"/>
<path d="M446.3,249.6 C444.8,251.5 443.2,254 442.7,256.9 C442.2,259.5 441.7,263 442,267 C442.3,270.5 444.3,273 444.9,275.7 C445.6,278.5 446,280 446.3,282" fill="none" stroke="#222" stroke-width="0.55"/>
<path d="M449.2,250.3 C448,253.5 447.2,256.5 447,259.8 C446.9,263.5 447.6,268 447.8,271.4 C448,275 448,279 448.2,282" fill="none" stroke="#222" stroke-width="0.55"/>
<path d="M423.8,287.4 C426,285.8 430,285 434,284.6 L434,286.8 C430,287 427,287.2 423.8,287.4Z" fill="#888"/>
<path d="M430,287.3 C434,285 442,284 452,283.6 C462,283.3 472,283.5 477,284.3 C479.5,284.8 480.6,286 480.4,287.4 C465,287.9 445,287.9 430,287.3Z" fill="#0a0a0a"/>
<text x="289.2" y="53.9" font-size="4.7" text-anchor="start" font-family="Liberation Sans, sans-serif" fill="#333">8.16</text>
<text x="384.8" y="53.9" font-size="4.7" text-anchor="end" font-family="Liberation Sans, sans-serif" fill="#333">0.0439</text>
<text x="290.1" y="145" font-size="4.7" text-anchor="start" font-family="Liberation Sans, sans-serif" fill="#333">89</text>
<text x="384.6" y="145" font-size="4.7" text-anchor="end" font-family="Liberation Sans, sans-serif" fill="#333">2.82</text>
<text x="419.2" y="53.9" font-size="4.7" text-anchor="start" font-family="Liberation Sans, sans-serif" fill="#333">8.95</text>
<text x="514.6" y="53.9" font-size="4.7" text-anchor="end" font-family="Liberation Sans, sans-serif" fill="#333">0.209</text>
<text x="420.1" y="145" font-size="4.7" text-anchor="start" font-family="Liberation Sans, sans-serif" fill="#333">5.49</text>
<text x="514.4" y="145" font-size="4.7" text-anchor="end" font-family="Liberation Sans, sans-serif" fill="#333">85.3</text>
<text x="289" y="195.8" font-size="4.7" text-anchor="start" font-family="Liberation Sans, sans-serif" fill="#333">0.176</text>
<text x="384.7" y="195.8" font-size="4.7" text-anchor="end" font-family="Liberation Sans, sans-serif" fill="#333">77.3</text>
<text x="289.9" y="286.5" font-size="4.7" text-anchor="start" font-family="Liberation Sans, sans-serif" fill="#333">1.32</text>
<text x="384.5" y="286.5" font-size="4.7" text-anchor="end" font-family="Liberation Sans, sans-serif" fill="#333">21.5</text>
<text x="419.1" y="195.8" font-size="4.7" text-anchor="start" font-family="Liberation Sans, sans-serif" fill="#333">0.0174</text>
<text x="514.6" y="195.8" font-size="4.7" text-anchor="end" font-family="Liberation Sans, sans-serif" fill="#333">0.33</text>
<text x="420" y="286.5" font-size="4.7" text-anchor="start" font-family="Liberation Sans, sans-serif" fill="#333">1.59</text>
<text x="514.4" y="286.5" font-size="4.7" text-anchor="end" font-family="Liberation Sans, sans-serif" fill="#333">80.6</text>
</svg>
</body></html>
